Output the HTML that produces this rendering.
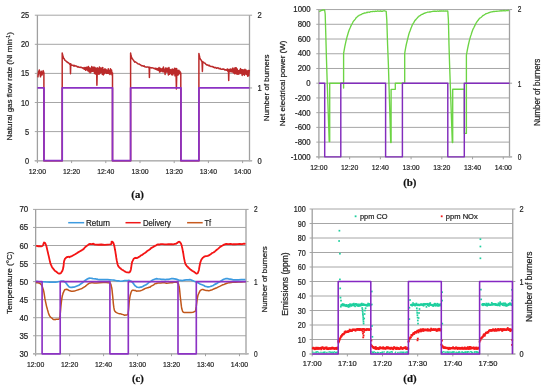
<!DOCTYPE html><html><head><meta charset="utf-8"><style>html,body{margin:0;padding:0;background:#fff;width:550px;height:392px;overflow:hidden}svg{display:block;will-change:transform} text{stroke:#1e1e1e;stroke-width:0.22px}</style></head><body>
<svg width="550" height="392" viewBox="0 0 550 392" shape-rendering="auto">
<rect width="550" height="392" fill="#fff"/>
<line x1="34.8" y1="160.7" x2="249.5" y2="160.7" stroke="#a6a6a6" stroke-width="1"/>
<line x1="34.8" y1="131.6" x2="249.5" y2="131.6" stroke="#a6a6a6" stroke-width="1"/>
<line x1="34.8" y1="102.5" x2="249.5" y2="102.5" stroke="#a6a6a6" stroke-width="1"/>
<line x1="34.8" y1="73.4" x2="249.5" y2="73.4" stroke="#a6a6a6" stroke-width="1"/>
<line x1="34.8" y1="44.3" x2="249.5" y2="44.3" stroke="#a6a6a6" stroke-width="1"/>
<line x1="34.8" y1="15.2" x2="249.5" y2="15.2" stroke="#a6a6a6" stroke-width="1"/>
<line x1="249.5" y1="15.2" x2="252.1" y2="15.2" stroke="#a0a0a0" stroke-width="1"/>
<line x1="249.5" y1="87.95" x2="252.1" y2="87.95" stroke="#a0a0a0" stroke-width="1"/>
<line x1="249.5" y1="160.7" x2="252.1" y2="160.7" stroke="#a0a0a0" stroke-width="1"/>
<line x1="37.4" y1="15.2" x2="37.4" y2="161.3" stroke="#a0a0a0" stroke-width="1.3"/>
<line x1="249.5" y1="15.2" x2="249.5" y2="161.3" stroke="#a0a0a0" stroke-width="1.3"/>
<line x1="34.8" y1="160.7" x2="252.1" y2="160.7" stroke="#b4b4b4" stroke-width="1.4"/>
<line x1="37.4" y1="160.7" x2="37.4" y2="163.1" stroke="#a0a0a0" stroke-width="1"/>
<line x1="71.6" y1="160.7" x2="71.6" y2="163.1" stroke="#a0a0a0" stroke-width="1"/>
<line x1="105.8" y1="160.7" x2="105.8" y2="163.1" stroke="#a0a0a0" stroke-width="1"/>
<line x1="140" y1="160.7" x2="140" y2="163.1" stroke="#a0a0a0" stroke-width="1"/>
<line x1="174.2" y1="160.7" x2="174.2" y2="163.1" stroke="#a0a0a0" stroke-width="1"/>
<line x1="208.4" y1="160.7" x2="208.4" y2="163.1" stroke="#a0a0a0" stroke-width="1"/>
<line x1="242.6" y1="160.7" x2="242.6" y2="163.1" stroke="#a0a0a0" stroke-width="1"/>
<text transform="translate(29.2,163.7) scale(0.86,1)" font-family="Liberation Sans" font-size="8.6" fill="#1e1e1e" text-anchor="end">0</text>
<text transform="translate(29.2,134.6) scale(0.86,1)" font-family="Liberation Sans" font-size="8.6" fill="#1e1e1e" text-anchor="end">5</text>
<text transform="translate(29.2,105.5) scale(0.86,1)" font-family="Liberation Sans" font-size="8.6" fill="#1e1e1e" text-anchor="end">10</text>
<text transform="translate(29.2,76.4) scale(0.86,1)" font-family="Liberation Sans" font-size="8.6" fill="#1e1e1e" text-anchor="end">15</text>
<text transform="translate(29.2,47.3) scale(0.86,1)" font-family="Liberation Sans" font-size="8.6" fill="#1e1e1e" text-anchor="end">20</text>
<text transform="translate(29.2,18.2) scale(0.86,1)" font-family="Liberation Sans" font-size="8.6" fill="#1e1e1e" text-anchor="end">25</text>
<text transform="translate(257.4,163.7) scale(0.88,1)" font-family="Liberation Sans" font-size="8.6" fill="#1e1e1e" text-anchor="start">0</text>
<text transform="translate(257.4,90.95) scale(0.88,1)" font-family="Liberation Sans" font-size="8.6" fill="#1e1e1e" text-anchor="start">1</text>
<text transform="translate(257.4,18.2) scale(0.88,1)" font-family="Liberation Sans" font-size="8.6" fill="#1e1e1e" text-anchor="start">2</text>
<text x="37.4" y="173.9" font-family="Liberation Sans" font-size="8" fill="#1e1e1e" text-anchor="middle" textLength="17.2" lengthAdjust="spacingAndGlyphs">12:00</text>
<text x="71.6" y="173.9" font-family="Liberation Sans" font-size="8" fill="#1e1e1e" text-anchor="middle" textLength="17.2" lengthAdjust="spacingAndGlyphs">12:20</text>
<text x="105.8" y="173.9" font-family="Liberation Sans" font-size="8" fill="#1e1e1e" text-anchor="middle" textLength="17.2" lengthAdjust="spacingAndGlyphs">12:40</text>
<text x="140" y="173.9" font-family="Liberation Sans" font-size="8" fill="#1e1e1e" text-anchor="middle" textLength="17.2" lengthAdjust="spacingAndGlyphs">13:00</text>
<text x="174.2" y="173.9" font-family="Liberation Sans" font-size="8" fill="#1e1e1e" text-anchor="middle" textLength="17.2" lengthAdjust="spacingAndGlyphs">13:20</text>
<text x="208.4" y="173.9" font-family="Liberation Sans" font-size="8" fill="#1e1e1e" text-anchor="middle" textLength="17.2" lengthAdjust="spacingAndGlyphs">13:40</text>
<text x="242.6" y="173.9" font-family="Liberation Sans" font-size="8" fill="#1e1e1e" text-anchor="middle" textLength="17.2" lengthAdjust="spacingAndGlyphs">14:00</text>
<text transform="translate(12.4,86.3) rotate(-90)" font-family="Liberation Sans" font-size="8" fill="#1e1e1e" text-anchor="middle" textLength="108.3" lengthAdjust="spacingAndGlyphs">Natural gas flow rate (Nl min<tspan dy="-2.5" font-size="5">-1</tspan><tspan dy="2.5">)</tspan></text>
<text transform="translate(269.2,87.9) rotate(-90)" x="0" y="0" font-family="Liberation Sans" font-size="8" fill="#1e1e1e" text-anchor="middle" textLength="66.8" lengthAdjust="spacingAndGlyphs" >Number of burners</text>
<text x="137.6" y="197.5" font-family="Liberation Serif" font-size="10.8" fill="#111" text-anchor="middle" font-weight="bold">(a)</text>
<polyline points="37.9,77.3 38.5,72.2 39.3,69.9 40,74 40.5,76.8 41.3,71.3 42,75 42.5,73.2 43.2,70.6 43.9,73 43.9,160.7 62.2,160.7 62.2,160.7 62.2,53 62.6,55.09 63.15,56.77 63.7,58.46 64.25,58.89 64.8,60.07 65.35,60.56 65.9,60.84 66.45,61.73 67,61.75 67.55,62.5 68.1,62.54 68.65,62.89 69.2,63.5 69.75,64.16 70.3,63.8 70.5,73.7 70.8,63.8 70.85,64.14 71.4,64.75 71.95,65.27 72.5,65.16 73.05,65.21 73.6,65.93 74.15,65.29 74.7,66.2 75.25,65.87 75.8,65.91 76.35,66.06 76.9,66.39 77.45,67 78,66.59 78.55,67.09 79.1,67.29 79.65,67.19 80.2,67.48 80.75,67.18 81.3,67.31 81.85,67.57 82.4,68.12 82.95,68.01 83.5,68.73 84.05,67.42 84.6,69.31 85.15,67.74 85.7,70.24 86.25,67.16 86.8,69.84 87.35,67.3 87.9,70.77 88.45,66.6 89,71.69 89.55,67.87 90.1,72.83 90.65,68.34 91.2,71.8 91.75,66.48 92.3,71.29 92.85,67.46 93.4,71.13 93.95,67.1 94.5,73.48 95.05,67.56 95.6,73.99 96.15,68.5 96.7,73.61 96.9,85.2 97.2,73.61 97.25,67.82 97.8,73.43 98.35,68.4 98.9,74.36 99.45,67.09 100,73.42 100.55,68.08 101.1,72.33 101.65,68.12 102.2,74.24 102.75,67.39 103.3,74.91 103.85,69.66 104.4,73.75 104.95,68.65 105.5,72.8 106.05,69.41 106.6,73.37 107.15,70.58 107.7,73.18 108.25,68.77 108.8,73.52 109.35,70.46 109.9,74.44 110.45,68.72 111,73.64 111.55,70.11 112.1,75.17 112.5,73 112.5,160.7 130.6,160.7 130.6,160.7 130.6,53 131,55.59 131.55,57.37 132.1,58.66 132.65,59.07 133.2,59.96 133.75,60.55 134.3,61.58 134.85,62.14 135.4,61.85 135.95,62.27 136.5,62.68 137.05,63.02 137.6,63.56 138.15,63.94 138.7,63.92 139.25,63.95 139.8,64.56 140.35,64.75 140.9,65.15 141.45,65.71 142,65.67 142.55,65.71 143.1,65.99 143.65,66.22 144.2,65.83 144.75,66.76 145.3,66.81 145.85,67.06 146.4,67.14 146.95,66.92 147.5,67.07 148.05,66.95 148.6,67.56 149.15,67.18 149.4,77.5 149.7,67.18 149.7,67.32 150.25,67.57 150.8,67.65 151.35,67.93 151.9,67.79 152.45,67.86 153,68.11 153.55,68.18 154.1,68.53 154.65,68.33 155.2,69.2 155.75,68.22 156.3,69.52 156.85,68.54 157.4,70.1 157.95,68.42 158.5,70.16 159.05,67.6 159.6,72.04 160.15,68.19 160.7,71.54 161.25,68.99 161.8,71.05 162.35,68.4 162.9,71.78 163.45,67.01 164,71.82 164.55,69.37 165.1,74.38 165.65,68.02 166.2,72.13 166.75,68.14 167.3,71.93 167.85,68.34 168.4,74.93 168.95,67.48 169.5,74.24 170.05,69.44 170.6,73.4 171.15,69.87 171.7,74.76 172.25,68.92 172.8,74.93 173.35,69.67 173.9,73.4 174.45,68.36 175,75.82 175.55,68.38 176.1,75.42 176.4,89 176.7,75.42 176.65,68.61 177.2,75.36 177.75,70.52 178.3,74.82 178.85,70.27 179.4,73.49 179.95,71.38 180.5,74.36 180.8,73 180.8,160.7 198.9,160.7 198.9,160.7 198.9,53.5 199.3,55.53 199.85,57.76 200.4,59.24 200.95,59.73 201.5,60.93 202.05,61.62 202.4,71.4 202.7,61.62 202.6,62.14 203.15,62.1 203.7,62.41 204.25,62.81 204.8,63.15 205.35,63.49 205.9,64.18 206.45,64.72 207,64.94 207.55,64.87 208.1,65.27 208.65,65.64 209.2,65.21 209.75,65.94 210.3,66.37 210.85,66.45 211.4,66.61 211.95,66.54 212.5,66.44 213.05,67.16 213.6,66.91 214.15,67.49 214.7,67.8 215.25,67.43 215.8,67.58 216.35,68.21 216.9,68.14 217.45,67.78 218,67.87 218.55,68.02 219.1,68.82 219.65,68.85 220.2,68.38 220.75,69.11 221.3,69.36 221.85,69.18 222.4,69.02 222.95,69.3 223.5,69.03 224.05,69.03 224.6,70 225.15,69.81 225.7,69.8 226.25,70.26 226.8,69.91 227.35,69.01 227.9,71.33 228.45,69.62 228.7,80.6 229,69.62 229,71.1 229.55,69.52 230.1,71.43 230.65,69.01 231.2,71.8 231.75,69.25 232.3,71.87 232.85,68.07 233.4,72.71 233.95,69.05 234.5,73.7 235.05,67.69 235.6,73.61 236.15,67.67 236.7,74 237.25,68.98 237.8,74.22 238.35,70.67 238.9,74.12 239.45,70.32 240,72.96 240.55,68.62 241.1,73.6 241.65,69.74 242.2,75.4 242.75,69.63 243.3,74.34 243.85,69.88 244.4,75.17 244.95,69.22 245.5,73.95 246.05,70.02 246.6,74.51 247.15,71 247.7,76.21 248.25,70.44 248.8,75.71 249.35,69.81" fill="none" stroke="#bb2a2a" stroke-width="1.5" stroke-linejoin="round" stroke-linecap="butt" />
<polyline points="37.4,87.95 44,87.95 44,160.7 62.2,160.7 62.2,87.95 112.5,87.95 112.5,160.7 130.6,160.7 130.6,87.95 181,87.95 181,160.7 198.9,160.7 198.9,87.95 249.5,87.95" fill="none" stroke="#8c32c4" stroke-width="1.75" stroke-linejoin="round" stroke-linecap="butt" />
<line x1="316.3" y1="156.85" x2="509.5" y2="156.85" stroke="#a6a6a6" stroke-width="1"/>
<line x1="316.3" y1="142.12" x2="509.5" y2="142.12" stroke="#a6a6a6" stroke-width="1"/>
<line x1="316.3" y1="127.39" x2="509.5" y2="127.39" stroke="#a6a6a6" stroke-width="1"/>
<line x1="316.3" y1="112.66" x2="509.5" y2="112.66" stroke="#a6a6a6" stroke-width="1"/>
<line x1="316.3" y1="97.93" x2="509.5" y2="97.93" stroke="#a6a6a6" stroke-width="1"/>
<line x1="316.3" y1="83.2" x2="509.5" y2="83.2" stroke="#a6a6a6" stroke-width="1"/>
<line x1="316.3" y1="68.48" x2="509.5" y2="68.48" stroke="#a6a6a6" stroke-width="1"/>
<line x1="316.3" y1="53.75" x2="509.5" y2="53.75" stroke="#a6a6a6" stroke-width="1"/>
<line x1="316.3" y1="39.02" x2="509.5" y2="39.02" stroke="#a6a6a6" stroke-width="1"/>
<line x1="316.3" y1="24.29" x2="509.5" y2="24.29" stroke="#a6a6a6" stroke-width="1"/>
<line x1="316.3" y1="9.56" x2="509.5" y2="9.56" stroke="#a6a6a6" stroke-width="1"/>
<line x1="509.5" y1="9.56" x2="512.1" y2="9.56" stroke="#a0a0a0" stroke-width="1"/>
<line x1="509.5" y1="83.2" x2="512.1" y2="83.2" stroke="#a0a0a0" stroke-width="1"/>
<line x1="509.5" y1="156.85" x2="512.1" y2="156.85" stroke="#a0a0a0" stroke-width="1"/>
<line x1="318.9" y1="9.56" x2="318.9" y2="157.45" stroke="#a0a0a0" stroke-width="1.3"/>
<line x1="509.5" y1="9.56" x2="509.5" y2="157.45" stroke="#a0a0a0" stroke-width="1.3"/>
<line x1="316.3" y1="156.85" x2="512.1" y2="156.85" stroke="#b4b4b4" stroke-width="1.4"/>
<line x1="318.9" y1="156.85" x2="318.9" y2="159.25" stroke="#a0a0a0" stroke-width="1"/>
<line x1="349.63" y1="156.85" x2="349.63" y2="159.25" stroke="#a0a0a0" stroke-width="1"/>
<line x1="380.36" y1="156.85" x2="380.36" y2="159.25" stroke="#a0a0a0" stroke-width="1"/>
<line x1="411.09" y1="156.85" x2="411.09" y2="159.25" stroke="#a0a0a0" stroke-width="1"/>
<line x1="441.82" y1="156.85" x2="441.82" y2="159.25" stroke="#a0a0a0" stroke-width="1"/>
<line x1="472.55" y1="156.85" x2="472.55" y2="159.25" stroke="#a0a0a0" stroke-width="1"/>
<line x1="503.28" y1="156.85" x2="503.28" y2="159.25" stroke="#a0a0a0" stroke-width="1"/>
<text transform="translate(310.7,160.1) scale(0.91,1)" font-family="Liberation Sans" font-size="8.6" fill="#1e1e1e" text-anchor="end">-1000</text>
<text transform="translate(310.7,145.29) scale(0.91,1)" font-family="Liberation Sans" font-size="8.6" fill="#1e1e1e" text-anchor="end">-800</text>
<text transform="translate(310.7,130.47) scale(0.91,1)" font-family="Liberation Sans" font-size="8.6" fill="#1e1e1e" text-anchor="end">-600</text>
<text transform="translate(310.7,115.66) scale(0.91,1)" font-family="Liberation Sans" font-size="8.6" fill="#1e1e1e" text-anchor="end">-400</text>
<text transform="translate(310.7,100.84) scale(0.91,1)" font-family="Liberation Sans" font-size="8.6" fill="#1e1e1e" text-anchor="end">-200</text>
<text transform="translate(310.7,86.03) scale(0.91,1)" font-family="Liberation Sans" font-size="8.6" fill="#1e1e1e" text-anchor="end">0</text>
<text transform="translate(310.7,71.22) scale(0.91,1)" font-family="Liberation Sans" font-size="8.6" fill="#1e1e1e" text-anchor="end">200</text>
<text transform="translate(310.7,56.4) scale(0.91,1)" font-family="Liberation Sans" font-size="8.6" fill="#1e1e1e" text-anchor="end">400</text>
<text transform="translate(310.7,41.59) scale(0.91,1)" font-family="Liberation Sans" font-size="8.6" fill="#1e1e1e" text-anchor="end">600</text>
<text transform="translate(310.7,26.77) scale(0.91,1)" font-family="Liberation Sans" font-size="8.6" fill="#1e1e1e" text-anchor="end">800</text>
<text transform="translate(310.7,11.96) scale(0.91,1)" font-family="Liberation Sans" font-size="8.6" fill="#1e1e1e" text-anchor="end">1000</text>
<text transform="translate(517.8,160.1) scale(0.76,1)" font-family="Liberation Sans" font-size="8.6" fill="#1e1e1e" text-anchor="start">0</text>
<text transform="translate(517.8,86.5) scale(0.76,1)" font-family="Liberation Sans" font-size="8.6" fill="#1e1e1e" text-anchor="start">1</text>
<text transform="translate(517.8,12.06) scale(0.76,1)" font-family="Liberation Sans" font-size="8.6" fill="#1e1e1e" text-anchor="start">2</text>
<text x="318.9" y="169.9" font-family="Liberation Sans" font-size="8" fill="#1e1e1e" text-anchor="middle" textLength="17.2" lengthAdjust="spacingAndGlyphs">12:00</text>
<text x="349.63" y="169.9" font-family="Liberation Sans" font-size="8" fill="#1e1e1e" text-anchor="middle" textLength="17.2" lengthAdjust="spacingAndGlyphs">12:20</text>
<text x="380.36" y="169.9" font-family="Liberation Sans" font-size="8" fill="#1e1e1e" text-anchor="middle" textLength="17.2" lengthAdjust="spacingAndGlyphs">12:40</text>
<text x="411.09" y="169.9" font-family="Liberation Sans" font-size="8" fill="#1e1e1e" text-anchor="middle" textLength="17.2" lengthAdjust="spacingAndGlyphs">13:00</text>
<text x="441.82" y="169.9" font-family="Liberation Sans" font-size="8" fill="#1e1e1e" text-anchor="middle" textLength="17.2" lengthAdjust="spacingAndGlyphs">13:20</text>
<text x="472.55" y="169.9" font-family="Liberation Sans" font-size="8" fill="#1e1e1e" text-anchor="middle" textLength="17.2" lengthAdjust="spacingAndGlyphs">13:40</text>
<text x="503.28" y="169.9" font-family="Liberation Sans" font-size="8" fill="#1e1e1e" text-anchor="middle" textLength="17.2" lengthAdjust="spacingAndGlyphs">14:00</text>
<text transform="translate(284.9,83.4) rotate(-90)" x="0" y="0" font-family="Liberation Sans" font-size="8" fill="#1e1e1e" text-anchor="middle" textLength="85.9" lengthAdjust="spacingAndGlyphs" >Net electrical power (W)</text>
<text transform="translate(540.2,92.3) rotate(-90)" x="0" y="0" font-family="Liberation Sans" font-size="8.3" fill="#1e1e1e" text-anchor="middle" textLength="67.4" lengthAdjust="spacingAndGlyphs" >Number of burners</text>
<text x="409.8" y="185.7" font-family="Liberation Serif" font-size="10.8" fill="#111" text-anchor="middle" font-weight="bold">(b)</text>
<polyline points="319.2,11.6 321,10.6 323,10 324.6,9.9 325.2,14 325.8,35 326.5,60 327.2,82 329.2,141.6 329.7,141.6 329.7,83.2 343.6,83.2 343.6,88 343.6,53.4 344.1,50.68 344.8,46.68 345.5,43.35 346.2,40.22 346.9,37.43 347.6,35 348.3,32.59 349,30.57 349.7,28.67 350.4,27.21 351.1,25.56 351.8,24.26 352.5,23.04 353.2,21.56 353.9,20.69 354.6,19.95 355.3,19.06 356,17.95 356.7,17.25 357.4,16.79 358.1,16.04 358.8,15.62 359.5,15.07 360.2,14.95 360.9,14.63 361.6,14.35 362.3,13.67 363,13.67 363.7,13.39 364.4,12.9 365.1,13.06 365.8,12.92 366.5,12.37 367.2,12.59 367.9,12.17 368.6,12.09 369.3,12.23 370,12.04 370.7,11.62 371.4,11.67 372.1,11.63 372.8,11.48 373.5,11.34 374.2,11.35 374.9,11.5 375.6,11.1 376.3,11.32 377,11.23 377.7,10.98 378.4,11.11 379.1,11.23 379.8,11.15 380.5,10.9 381.2,11.34 381.9,11.22 382.6,11.3 383.3,10.85 384,10.92 384.7,10.79 385.4,11.15 386.2,11.4 386.8,20 387.6,45 388.4,65 390.7,142.6 391.1,142.6 391.1,89.3 395.3,89.3 395.3,83.2 404.7,83.2 404.7,53.4 405.2,50.35 405.9,46.5 406.6,43.23 407.3,40.39 408,37.55 408.7,34.74 409.4,32.39 410.1,30.71 410.8,28.66 411.5,27.03 412.2,25.19 412.9,23.78 413.6,22.84 414.3,21.57 415,20.37 415.7,19.87 416.4,18.88 417.1,18.2 417.8,17.15 418.5,16.91 419.2,15.95 419.9,15.84 420.6,15.17 421.3,14.7 422,14.42 422.7,14.27 423.4,13.63 424.1,13.28 424.8,13.23 425.5,12.85 426.2,12.58 426.9,12.42 427.6,12.19 428.3,12.11 429,12.03 429.7,11.9 430.4,12.01 431.1,11.68 431.8,11.69 432.5,11.44 433.2,11.45 433.9,11.22 434.6,11.27 435.3,11.1 436,11.4 436.7,11.27 437.4,11.04 438.1,11.15 438.8,11.34 439.5,10.9 440.2,11.23 440.9,11.01 441.6,11.02 442.3,11.17 443,10.93 443.7,10.97 444.4,11.04 445.1,11.17 445.8,10.84 446.5,11.07 447.2,11 447.8,11.2 448.4,20 449,45 449.6,65 452.3,142.6 452.7,142.6 452.7,89.2 464.4,89.2 464.4,133.4 466.4,133.4 466.4,55 466.9,52.29 467.6,48.58 468.3,45.26 469,42.11 469.7,39.39 470.4,36.85 471.1,34.89 471.8,32.55 472.5,30.58 473.2,28.79 473.9,27.56 474.6,26.11 475.3,24.67 476,23.25 476.7,22.11 477.4,21.11 478.1,20.25 478.8,19.25 479.5,18.61 480.2,17.8 480.9,17.5 481.6,16.9 482.3,16.14 483,15.49 483.7,15.4 484.4,14.65 485.1,14.29 485.8,13.77 486.5,13.64 487.2,13.39 487.9,13.14 488.6,12.75 489.3,12.68 490,12.22 490.7,12.17 491.4,11.91 492.1,11.91 492.8,11.59 493.5,11.45 494.2,11.47 494.9,11.32 495.6,11.4 496.3,11.28 497,11.31 497.7,11.19 498.4,11.15 499.1,11.17 499.8,10.86 500.5,10.78 501.2,11.06 501.9,10.6 502.6,10.84 503.3,10.77 504,10.43 504.7,10.8 505.4,10.8 506.1,10.64 506.8,10.67 507.5,10.69 508.2,10.33 508.9,10.5" fill="none" stroke="#6cd444" stroke-width="1.35" stroke-linejoin="round" stroke-linecap="butt" />
<polyline points="318.9,83.2 324.7,83.2 324.7,156.85 340.8,156.85 340.8,83.2 385.6,83.2 385.6,156.85 402.4,156.85 402.4,83.2 447.8,83.2 447.8,156.85 464.3,156.85 464.3,83.2 509.5,83.2" fill="none" stroke="#822cbc" stroke-width="1.45" stroke-linejoin="round" stroke-linecap="butt" />
<line x1="33.05" y1="353.8" x2="246" y2="353.8" stroke="#a6a6a6" stroke-width="1"/>
<line x1="33.05" y1="335.75" x2="246" y2="335.75" stroke="#a6a6a6" stroke-width="1"/>
<line x1="33.05" y1="317.7" x2="246" y2="317.7" stroke="#a6a6a6" stroke-width="1"/>
<line x1="33.05" y1="299.65" x2="246" y2="299.65" stroke="#a6a6a6" stroke-width="1"/>
<line x1="33.05" y1="281.6" x2="246" y2="281.6" stroke="#a6a6a6" stroke-width="1"/>
<line x1="33.05" y1="263.55" x2="246" y2="263.55" stroke="#a6a6a6" stroke-width="1"/>
<line x1="33.05" y1="245.5" x2="246" y2="245.5" stroke="#a6a6a6" stroke-width="1"/>
<line x1="33.05" y1="227.45" x2="246" y2="227.45" stroke="#a6a6a6" stroke-width="1"/>
<line x1="33.05" y1="209.4" x2="246" y2="209.4" stroke="#a6a6a6" stroke-width="1"/>
<line x1="246" y1="209.4" x2="248.6" y2="209.4" stroke="#a0a0a0" stroke-width="1"/>
<line x1="246" y1="281.6" x2="248.6" y2="281.6" stroke="#a0a0a0" stroke-width="1"/>
<line x1="246" y1="353.8" x2="248.6" y2="353.8" stroke="#a0a0a0" stroke-width="1"/>
<line x1="35.65" y1="209.4" x2="35.65" y2="354.4" stroke="#a0a0a0" stroke-width="1.3"/>
<line x1="246" y1="209.4" x2="246" y2="354.4" stroke="#a0a0a0" stroke-width="1.3"/>
<line x1="33.05" y1="353.8" x2="248.6" y2="353.8" stroke="#b4b4b4" stroke-width="1.4"/>
<line x1="35.65" y1="353.8" x2="35.65" y2="356.2" stroke="#a0a0a0" stroke-width="1"/>
<line x1="69.62" y1="353.8" x2="69.62" y2="356.2" stroke="#a0a0a0" stroke-width="1"/>
<line x1="103.59" y1="353.8" x2="103.59" y2="356.2" stroke="#a0a0a0" stroke-width="1"/>
<line x1="137.56" y1="353.8" x2="137.56" y2="356.2" stroke="#a0a0a0" stroke-width="1"/>
<line x1="171.53" y1="353.8" x2="171.53" y2="356.2" stroke="#a0a0a0" stroke-width="1"/>
<line x1="205.5" y1="353.8" x2="205.5" y2="356.2" stroke="#a0a0a0" stroke-width="1"/>
<line x1="239.47" y1="353.8" x2="239.47" y2="356.2" stroke="#a0a0a0" stroke-width="1"/>
<text transform="translate(28.2,356.8) scale(0.92,1)" font-family="Liberation Sans" font-size="8.6" fill="#1e1e1e" text-anchor="end">30</text>
<text transform="translate(28.2,338.75) scale(0.92,1)" font-family="Liberation Sans" font-size="8.6" fill="#1e1e1e" text-anchor="end">35</text>
<text transform="translate(28.2,320.7) scale(0.92,1)" font-family="Liberation Sans" font-size="8.6" fill="#1e1e1e" text-anchor="end">40</text>
<text transform="translate(28.2,302.65) scale(0.92,1)" font-family="Liberation Sans" font-size="8.6" fill="#1e1e1e" text-anchor="end">45</text>
<text transform="translate(28.2,284.6) scale(0.92,1)" font-family="Liberation Sans" font-size="8.6" fill="#1e1e1e" text-anchor="end">50</text>
<text transform="translate(28.2,266.55) scale(0.92,1)" font-family="Liberation Sans" font-size="8.6" fill="#1e1e1e" text-anchor="end">55</text>
<text transform="translate(28.2,248.5) scale(0.92,1)" font-family="Liberation Sans" font-size="8.6" fill="#1e1e1e" text-anchor="end">60</text>
<text transform="translate(28.2,230.45) scale(0.92,1)" font-family="Liberation Sans" font-size="8.6" fill="#1e1e1e" text-anchor="end">65</text>
<text transform="translate(28.2,212.4) scale(0.92,1)" font-family="Liberation Sans" font-size="8.6" fill="#1e1e1e" text-anchor="end">70</text>
<text transform="translate(253.9,356.8) scale(0.76,1)" font-family="Liberation Sans" font-size="8.6" fill="#1e1e1e" text-anchor="start">0</text>
<text transform="translate(253.9,284.6) scale(0.76,1)" font-family="Liberation Sans" font-size="8.6" fill="#1e1e1e" text-anchor="start">1</text>
<text transform="translate(253.9,212.4) scale(0.76,1)" font-family="Liberation Sans" font-size="8.6" fill="#1e1e1e" text-anchor="start">2</text>
<text x="35.65" y="366.6" font-family="Liberation Sans" font-size="8" fill="#1e1e1e" text-anchor="middle" textLength="17.2" lengthAdjust="spacingAndGlyphs">12:00</text>
<text x="69.62" y="366.6" font-family="Liberation Sans" font-size="8" fill="#1e1e1e" text-anchor="middle" textLength="17.2" lengthAdjust="spacingAndGlyphs">12:20</text>
<text x="103.59" y="366.6" font-family="Liberation Sans" font-size="8" fill="#1e1e1e" text-anchor="middle" textLength="17.2" lengthAdjust="spacingAndGlyphs">12:40</text>
<text x="137.56" y="366.6" font-family="Liberation Sans" font-size="8" fill="#1e1e1e" text-anchor="middle" textLength="17.2" lengthAdjust="spacingAndGlyphs">13:00</text>
<text x="171.53" y="366.6" font-family="Liberation Sans" font-size="8" fill="#1e1e1e" text-anchor="middle" textLength="17.2" lengthAdjust="spacingAndGlyphs">13:20</text>
<text x="205.5" y="366.6" font-family="Liberation Sans" font-size="8" fill="#1e1e1e" text-anchor="middle" textLength="17.2" lengthAdjust="spacingAndGlyphs">13:40</text>
<text x="239.47" y="366.6" font-family="Liberation Sans" font-size="8" fill="#1e1e1e" text-anchor="middle" textLength="17.2" lengthAdjust="spacingAndGlyphs">14:00</text>
<text transform="translate(12.1,282.7) rotate(-90)" x="0" y="0" font-family="Liberation Sans" font-size="8" fill="#1e1e1e" text-anchor="middle" textLength="62.4" lengthAdjust="spacingAndGlyphs" >Temperature (°C)</text>
<text transform="translate(267,279.4) rotate(-90)" x="0" y="0" font-family="Liberation Sans" font-size="8" fill="#1e1e1e" text-anchor="middle" textLength="66.3" lengthAdjust="spacingAndGlyphs" >Number of burners</text>
<text x="137.9" y="382.3" font-family="Liberation Serif" font-size="10.6" fill="#111" text-anchor="middle" font-weight="bold">(c)</text>
<line x1="68.2" y1="222.7" x2="84.2" y2="222.7" stroke="#3d9be0" stroke-width="1.5"/>
<text x="86" y="225.6" font-family="Liberation Sans" font-size="8.8" fill="#1e1e1e" text-anchor="start" textLength="24" lengthAdjust="spacingAndGlyphs">Return</text>
<line x1="125.5" y1="222.7" x2="140.7" y2="222.7" stroke="#f01818" stroke-width="1.5"/>
<text x="142.9" y="225.6" font-family="Liberation Sans" font-size="8.8" fill="#1e1e1e" text-anchor="start" textLength="28" lengthAdjust="spacingAndGlyphs">Delivery</text>
<line x1="187.1" y1="222.7" x2="202.7" y2="222.7" stroke="#c85a1e" stroke-width="1.5"/>
<text x="204.5" y="225.6" font-family="Liberation Sans" font-size="8.8" fill="#1e1e1e" text-anchor="start" textLength="6.6" lengthAdjust="spacingAndGlyphs">Tf</text>
<polyline points="36,281.3 38.44,281.53 41.96,281.73 45.96,281.95 49.84,282.05 53,282.22 55.41,282.07 57.46,281.88 59.21,281.51 60.71,281.25 62,281.19 62.99,281.24 63.63,281.17 64.09,281.47 64.53,281.6 65.1,282.04 65.81,282.77 66.56,283.8 67.34,284.85 68.12,285.72 68.9,286.69 69.64,287.11 70.35,287.3 71.08,287.42 71.88,287.45 72.8,287.17 73.88,287.17 75.08,286.71 76.35,286.23 77.64,285.75 78.9,285.27 80.16,284.31 81.45,283.5 82.73,282.53 83.93,281.4 85,280.56 85.88,279.96 86.61,279.48 87.28,279.06 87.97,278.67 88.8,278.44 89.78,278.18 90.86,278.25 91.99,278.41 93.12,278.73 94.2,278.74 95.13,278.96 95.96,278.97 96.81,279.17 97.84,279.4 99.2,279.65 100.98,279.72 103.07,279.72 105.35,279.61 107.67,279.7 109.9,279.79 112.11,280.01 114.4,280.22 116.64,280.78 118.75,280.85 120.6,281.24 122.16,281.21 123.49,280.78 124.66,280.72 125.74,280.66 126.8,280.64 127.81,280.48 128.71,280.44 129.57,280.51 130.41,280.97 131.3,281.21 132.23,282.15 133.18,283.17 134.12,284.54 135.07,285.81 136,286.39 136.9,287.07 137.77,287.26 138.64,287.48 139.54,287.39 140.5,287.12 141.56,287.05 142.7,286.49 143.86,285.81 144.98,285.22 146,284.8 146.86,284.22 147.61,283.58 148.32,282.92 149.09,282.36 150,281.74 151.04,281.24 152.14,280.27 153.34,279.8 154.65,279.26 156.1,278.69 157.77,278.87 159.63,278.99 161.58,279.34 163.51,279.42 165.3,279.56 166.94,279.46 168.49,279.39 170,278.98 171.49,278.7 173,278.68 174.5,278.84 175.97,279.17 177.45,279.64 178.98,280.27 180.6,280.34 182.41,280.53 184.39,280.15 186.37,279.94 188.23,279.83 189.8,279.71 191.05,279.92 192.09,280.38 192.96,280.7 193.71,281.02 194.4,281.24 194.91,281.49 195.22,281.59 195.48,281.56 195.86,281.77 196.5,281.86 197.48,282.56 198.69,283.12 200.03,283.92 201.4,284.57 202.7,285.04 203.9,285.49 205.08,286.29 206.26,286.5 207.49,286.88 208.8,286.85 210.2,286.53 211.66,286.09 213.17,285.42 214.75,284.37 216.4,283.65 218.16,282.59 220.04,281.53 221.95,280.35 223.83,279.32 225.6,278.7 227.16,278.54 228.57,278.91 229.97,279.12 231.5,279.4 233.3,279.82 235.65,279.92 238.44,279.79 241.28,279.7 243.77,279.71 245.5,279.68" fill="none" stroke="#3d9be0" stroke-width="1.7" stroke-linejoin="round" stroke-linecap="butt" />
<polyline points="36,282.84 36.65,282.77 37.6,282.84 38.67,282.92 39.72,283.29 40.6,283.95 41.29,284.74 41.9,285.68 42.44,286.96 42.93,288.44 43.4,289.95 43.82,291.69 44.17,293.56 44.49,295.74 44.82,298.13 45.2,299.85 45.63,302.05 46.08,304.2 46.56,306.36 47.03,308.05 47.5,309.81 47.94,311.31 48.35,312.7 48.77,313.92 49.24,315.2 49.8,316.14 50.46,317.06 51.21,317.54 52.01,318.25 52.82,319.08 53.6,319.56 54.38,319.59 55.19,319.64 55.99,319.28 56.74,319.25 57.4,319.27 57.97,319.18 58.48,319.25 58.92,319.22 59.33,318.51 59.7,317.44 60.02,315.64 60.29,313.32 60.53,310.6 60.76,307.92 61,305.39 61.25,303.24 61.49,301.28 61.73,299.28 62,297.58 62.3,295.82 62.65,294.71 63.04,293.25 63.44,292.43 63.87,291.4 64.3,290.52 64.68,289.91 65.01,289.61 65.38,289.58 65.89,289.55 66.6,289.34 67.54,289.58 68.66,290.25 69.92,290.82 71.31,291.16 72.8,291.19 74.47,291.08 76.34,290.35 78.29,289.8 80.21,289.1 82,288.48 83.67,287.39 85.3,286.33 86.85,284.98 88.3,283.83 89.6,283.1 90.56,283.03 91.2,282.85 91.81,282.77 92.71,282.78 94.2,283 96.6,282.95 99.73,282.66 103.07,282.43 106.12,282.57 108.4,282.87 109.74,282.99 110.49,283.45 110.86,284.28 111.09,285.25 111.4,286.57 111.77,287.97 112.06,290.13 112.28,292.24 112.49,294.32 112.7,296.28 112.91,298.66 113.09,300.54 113.27,302.85 113.47,304.59 113.7,306.29 113.92,307.93 114.12,308.96 114.36,310.27 114.73,311 115.3,311.67 116.11,312.35 117.11,312.93 118.24,313.42 119.42,313.86 120.6,313.86 121.86,314.32 123.24,314.62 124.62,315.22 125.85,315.04 126.8,314.92 127.41,314.69 127.75,314.49 127.95,314.14 128.09,313.26 128.3,311.89 128.55,310.04 128.77,307.48 128.99,304.45 129.23,301.68 129.5,299.67 129.81,297.66 130.15,295.6 130.52,294.28 130.9,292.82 131.3,291.75 131.68,291 132.04,290.51 132.43,290.24 132.93,290.27 133.6,290.24 134.44,290.56 135.43,290.49 136.53,291.14 137.72,291.04 139,291.04 140.46,290.82 142.13,290.17 143.83,289.25 145.4,288.37 146.7,287.99 147.62,287.64 148.27,287.7 148.8,287.31 149.33,287.23 150,287.16 150.84,286.34 151.75,285.9 152.7,285.42 153.66,284.8 154.6,284.02 155.45,283.64 156.22,283.33 157.03,283.42 157.99,282.95 159.2,283 160.76,283 162.59,282.8 164.56,282.84 166.54,283.18 168.4,283.05 170.23,282.77 172.11,282.71 173.92,282.33 175.52,282.23 176.8,282.3 177.66,282.97 178.2,283.51 178.53,284.09 178.79,285.23 179.1,286.31 179.45,288.45 179.75,291.15 180.03,294.22 180.31,297.08 180.6,299.45 180.89,301.82 181.17,304.32 181.45,306.63 181.79,308.81 182.2,310.07 182.61,311.37 183,311.96 183.49,312.33 184.18,312.48 185.2,312.54 186.76,312.53 188.8,312.51 190.97,312.39 192.95,312.3 194.4,311.63 195.21,311.21 195.6,310.87 195.75,309.96 195.82,308.99 196,307.81 196.28,306.45 196.53,304.42 196.78,302.6 197.03,300.55 197.3,298.9 197.56,297.25 197.81,296.02 198.08,295 198.39,294.21 198.8,293.38 199.26,292.34 199.74,291.32 200.31,290.55 201.01,289.96 201.9,289.57 203,289.59 204.28,289.98 205.69,290.38 207.21,290.53 208.8,290.84 210.52,290.22 212.39,289.67 214.32,288.77 216.23,288.07 218,287.08 219.62,286.37 221.15,285.6 222.63,284.82 224.1,284.43 225.6,283.73 227.06,283.18 228.46,282.86 229.89,282.82 231.47,282.4 233.3,282.09 235.65,282.17 238.44,282 241.28,282.07 243.77,281.68 245.5,281.79" fill="none" stroke="#c0561a" stroke-width="1.5" stroke-linejoin="round" stroke-linecap="butt" />
<polyline points="36,245.76 36.9,245.94 38.2,246.25 39.67,246.07 41.05,246.33 42.1,246.11 42.75,245.59 43.16,245.08 43.43,243.89 43.68,243.24 44,242.54 44.39,242.76 44.78,242.76 45.17,243.12 45.58,244.11 46,245.22 46.44,246.24 46.9,248.31 47.37,250.38 47.84,252.28 48.3,254.33 48.74,256.15 49.18,258.17 49.62,260.14 50.06,262.11 50.5,263.68 50.94,264.69 51.37,265.58 51.82,266.58 52.29,267.52 52.8,268.04 53.36,268.88 53.95,269.56 54.57,270.54 55.22,271.05 55.9,271.38 56.64,271.97 57.44,272.69 58.25,273.26 59.02,273.65 59.7,273.5 60.27,273.38 60.78,273.27 61.22,272.59 61.63,271.92 62,271.3 62.33,271.02 62.61,270.05 62.85,269.46 63.08,268.52 63.3,267.56 63.5,266.51 63.66,265.06 63.82,263.16 64.02,261.58 64.3,260.61 64.68,259.4 65.13,258.52 65.62,258.32 66.12,257.57 66.6,257.36 67.06,256.9 67.52,257.07 67.98,256.87 68.44,256.76 68.9,256.66 69.22,256.93 69.41,257.06 69.67,257.23 70.2,256.67 71.2,256.46 72.89,255.43 75.14,254.25 77.62,252.65 80.01,251.28 82,250.11 83.53,249.12 84.81,247.51 85.92,246.56 86.96,245.72 88,245.03 89.05,244.15 90.04,243.82 90.98,244.09 91.87,244.06 92.7,243.79 93.28,243.62 93.61,244.2 93.98,244.13 94.68,244.58 96,244.56 98.3,244.75 101.38,244.51 104.7,244.88 107.72,244.55 109.9,244.45 111.03,244.21 111.48,243.51 111.55,242.44 111.52,241.85 111.7,241.65 112.09,241.73 112.5,241.86 112.92,242.14 113.32,242.82 113.7,243.91 114.05,245.14 114.37,246.14 114.69,248.01 114.99,249.82 115.3,251.17 115.61,253.37 115.91,254.96 116.2,257.17 116.5,259 116.8,260.66 117.06,261.85 117.28,263.07 117.53,264.18 117.85,265.05 118.3,266.08 118.89,266.85 119.58,267.65 120.37,268.19 121.24,269.19 122.2,269.79 123.34,270.37 124.66,271.35 126.03,272.01 127.29,272.34 128.3,272.44 129.02,272.6 129.53,272.26 129.92,271.91 130.25,271.45 130.6,270.4 130.94,269.23 131.22,267.49 131.48,265.31 131.76,263.76 132.1,261.99 132.5,261.2 132.92,260.3 133.38,259.42 133.88,258.58 134.4,258.3 134.92,257.95 135.44,258.17 136.01,257.77 136.68,258.07 137.5,257.85 138.52,257.15 139.71,256.46 140.99,255.31 142.31,254.82 143.6,253.7 144.89,253.03 146.22,252.04 147.56,250.69 148.83,250.07 150,249.32 151.04,248.16 151.97,247.65 152.85,247.26 153.71,246.43 154.6,246.3 155.45,245.52 156.22,245.36 157.03,244.64 157.99,244.51 159.2,244.51 160.77,244.08 162.63,244.17 164.61,244.41 166.59,244.41 168.4,244.27 170.09,244.25 171.77,244.1 173.36,244.3 174.79,243.95 176,243.8 176.92,243.04 177.6,242.83 178.13,241.98 178.6,241.81 179.1,241.77 179.62,241.82 180.12,242.47 180.58,242.89 181,243.64 181.4,244.69 181.74,245.34 182.02,246.98 182.28,248.16 182.56,249.59 182.9,251.55 183.3,253.45 183.72,256.37 184.18,258.82 184.68,261.17 185.2,263.33 185.76,264.53 186.35,265.36 186.97,266.35 187.62,266.61 188.3,267.66 189,268.08 189.74,268.9 190.5,269.67 191.28,270.05 192.1,270.68 193,271.2 193.97,271.83 194.95,272.57 195.85,273.18 196.6,273.66 197.17,273.47 197.61,273.18 197.96,272.82 198.28,271.71 198.6,270.86 198.92,269.92 199.2,268.16 199.46,266.58 199.72,265.24 200,263.8 200.27,262.84 200.54,261.8 200.81,261.09 201.12,260.29 201.5,259.35 201.93,258.89 202.4,258.22 202.93,257.52 203.52,257.45 204.2,256.67 204.97,256.29 205.83,256.03 206.76,256.08 207.75,255.92 208.8,255.44 209.87,254.67 210.98,253.94 212.16,253.05 213.46,252.48 214.9,251.43 216.51,250.03 218.28,248.61 220.15,246.89 222.1,245.72 224.1,244.62 226.18,243.91 228.36,244.15 230.59,243.84 232.82,244.26 235,244.25 237.29,244.1 239.73,243.91 242.08,244.18 244.08,243.71 245.5,243.93" fill="none" stroke="#f41414" stroke-width="1.8" stroke-linejoin="round" stroke-linecap="butt" />
<polyline points="35.65,281.6 42.1,281.6 42.1,353.8 60.2,353.8 60.2,281.6 109.9,281.6 109.9,353.8 128.3,353.8 128.3,281.6 178,281.6 178,353.8 196.3,353.8 196.3,281.6 246,281.6" fill="none" stroke="#8c32c4" stroke-width="1.65" stroke-linejoin="round" stroke-linecap="butt" />
<line x1="309.6" y1="354" x2="512.75" y2="354" stroke="#a6a6a6" stroke-width="1"/>
<line x1="309.6" y1="339.5" x2="512.75" y2="339.5" stroke="#a6a6a6" stroke-width="1"/>
<line x1="309.6" y1="325" x2="512.75" y2="325" stroke="#a6a6a6" stroke-width="1"/>
<line x1="309.6" y1="310.5" x2="512.75" y2="310.5" stroke="#a6a6a6" stroke-width="1"/>
<line x1="309.6" y1="296" x2="512.75" y2="296" stroke="#a6a6a6" stroke-width="1"/>
<line x1="309.6" y1="281.5" x2="512.75" y2="281.5" stroke="#a6a6a6" stroke-width="1"/>
<line x1="309.6" y1="267" x2="512.75" y2="267" stroke="#a6a6a6" stroke-width="1"/>
<line x1="309.6" y1="252.5" x2="512.75" y2="252.5" stroke="#a6a6a6" stroke-width="1"/>
<line x1="309.6" y1="238" x2="512.75" y2="238" stroke="#a6a6a6" stroke-width="1"/>
<line x1="309.6" y1="223.5" x2="512.75" y2="223.5" stroke="#a6a6a6" stroke-width="1"/>
<line x1="309.6" y1="209" x2="512.75" y2="209" stroke="#a6a6a6" stroke-width="1"/>
<line x1="512.75" y1="209" x2="515.35" y2="209" stroke="#a0a0a0" stroke-width="1"/>
<line x1="512.75" y1="281.5" x2="515.35" y2="281.5" stroke="#a0a0a0" stroke-width="1"/>
<line x1="512.75" y1="354" x2="515.35" y2="354" stroke="#a0a0a0" stroke-width="1"/>
<line x1="312.2" y1="209" x2="312.2" y2="354.6" stroke="#a0a0a0" stroke-width="1.3"/>
<line x1="512.75" y1="209" x2="512.75" y2="354.6" stroke="#a0a0a0" stroke-width="1.3"/>
<line x1="309.6" y1="354" x2="515.35" y2="354" stroke="#b4b4b4" stroke-width="1.4"/>
<line x1="312.2" y1="354" x2="312.2" y2="356.4" stroke="#a0a0a0" stroke-width="1"/>
<line x1="347.36" y1="354" x2="347.36" y2="356.4" stroke="#a0a0a0" stroke-width="1"/>
<line x1="382.52" y1="354" x2="382.52" y2="356.4" stroke="#a0a0a0" stroke-width="1"/>
<line x1="417.68" y1="354" x2="417.68" y2="356.4" stroke="#a0a0a0" stroke-width="1"/>
<line x1="452.84" y1="354" x2="452.84" y2="356.4" stroke="#a0a0a0" stroke-width="1"/>
<line x1="488" y1="354" x2="488" y2="356.4" stroke="#a0a0a0" stroke-width="1"/>
<text transform="translate(305.8,357) scale(0.84,1)" font-family="Liberation Sans" font-size="8.6" fill="#1e1e1e" text-anchor="end">0</text>
<text transform="translate(305.8,342.5) scale(0.84,1)" font-family="Liberation Sans" font-size="8.6" fill="#1e1e1e" text-anchor="end">10</text>
<text transform="translate(305.8,328) scale(0.84,1)" font-family="Liberation Sans" font-size="8.6" fill="#1e1e1e" text-anchor="end">20</text>
<text transform="translate(305.8,313.5) scale(0.84,1)" font-family="Liberation Sans" font-size="8.6" fill="#1e1e1e" text-anchor="end">30</text>
<text transform="translate(305.8,299) scale(0.84,1)" font-family="Liberation Sans" font-size="8.6" fill="#1e1e1e" text-anchor="end">40</text>
<text transform="translate(305.8,284.5) scale(0.84,1)" font-family="Liberation Sans" font-size="8.6" fill="#1e1e1e" text-anchor="end">50</text>
<text transform="translate(305.8,270) scale(0.84,1)" font-family="Liberation Sans" font-size="8.6" fill="#1e1e1e" text-anchor="end">60</text>
<text transform="translate(305.8,255.5) scale(0.84,1)" font-family="Liberation Sans" font-size="8.6" fill="#1e1e1e" text-anchor="end">70</text>
<text transform="translate(305.8,241) scale(0.84,1)" font-family="Liberation Sans" font-size="8.6" fill="#1e1e1e" text-anchor="end">80</text>
<text transform="translate(305.8,226.5) scale(0.84,1)" font-family="Liberation Sans" font-size="8.6" fill="#1e1e1e" text-anchor="end">90</text>
<text transform="translate(305.8,212) scale(0.84,1)" font-family="Liberation Sans" font-size="8.6" fill="#1e1e1e" text-anchor="end">100</text>
<text transform="translate(519.6,357) scale(0.86,1)" font-family="Liberation Sans" font-size="8.6" fill="#1e1e1e" text-anchor="start">0</text>
<text transform="translate(519.6,284.5) scale(0.86,1)" font-family="Liberation Sans" font-size="8.6" fill="#1e1e1e" text-anchor="start">1</text>
<text transform="translate(519.6,212) scale(0.86,1)" font-family="Liberation Sans" font-size="8.6" fill="#1e1e1e" text-anchor="start">2</text>
<text x="312.2" y="366.4" font-family="Liberation Sans" font-size="8" fill="#1e1e1e" text-anchor="middle" textLength="18.8" lengthAdjust="spacingAndGlyphs">17:00</text>
<text x="347.36" y="366.4" font-family="Liberation Sans" font-size="8" fill="#1e1e1e" text-anchor="middle" textLength="18.8" lengthAdjust="spacingAndGlyphs">17:10</text>
<text x="382.52" y="366.4" font-family="Liberation Sans" font-size="8" fill="#1e1e1e" text-anchor="middle" textLength="18.8" lengthAdjust="spacingAndGlyphs">17:20</text>
<text x="417.68" y="366.4" font-family="Liberation Sans" font-size="8" fill="#1e1e1e" text-anchor="middle" textLength="18.8" lengthAdjust="spacingAndGlyphs">17:30</text>
<text x="452.84" y="366.4" font-family="Liberation Sans" font-size="8" fill="#1e1e1e" text-anchor="middle" textLength="18.8" lengthAdjust="spacingAndGlyphs">17:40</text>
<text x="488" y="366.4" font-family="Liberation Sans" font-size="8" fill="#1e1e1e" text-anchor="middle" textLength="18.8" lengthAdjust="spacingAndGlyphs">17:50</text>
<text transform="translate(287.7,284) rotate(-90)" x="0" y="0" font-family="Liberation Sans" font-size="8.4" fill="#1e1e1e" text-anchor="middle" textLength="63.3" lengthAdjust="spacingAndGlyphs" >Emissions (ppm)</text>
<text transform="translate(531.5,286.8) rotate(-90)" x="0" y="0" font-family="Liberation Sans" font-size="8.4" fill="#1e1e1e" text-anchor="middle" textLength="70.6" lengthAdjust="spacingAndGlyphs" >Number of burners</text>
<text x="409.9" y="382.3" font-family="Liberation Serif" font-size="10.8" fill="#111" text-anchor="middle" font-weight="bold">(d)</text>
<rect x="354.7" y="215.4" width="1.8" height="1.8" fill="#1ecf9e"/>
<text x="360" y="218.9" font-family="Liberation Sans" font-size="7.9" fill="#1e1e1e" text-anchor="start" textLength="27.6" lengthAdjust="spacingAndGlyphs">ppm CO</text>
<rect x="440.8" y="215.4" width="1.8" height="1.8" fill="#f41a1a"/>
<text x="445.8" y="218.9" font-family="Liberation Sans" font-size="7.9" fill="#1e1e1e" text-anchor="start" textLength="32" lengthAdjust="spacingAndGlyphs">ppm NOx</text>
<g fill="#f41a1a"><rect x="311.9" y="347.56" width="1.8" height="1.8"/><rect x="312.32" y="346.84" width="1.8" height="1.8"/><rect x="312.74" y="346.93" width="1.8" height="1.8"/><rect x="313.16" y="347.5" width="1.8" height="1.8"/><rect x="313.58" y="348.3" width="1.8" height="1.8"/><rect x="314" y="347.61" width="1.8" height="1.8"/><rect x="314.42" y="348.26" width="1.8" height="1.8"/><rect x="314.84" y="347.34" width="1.8" height="1.8"/><rect x="315.26" y="346.75" width="1.8" height="1.8"/><rect x="315.68" y="347.52" width="1.8" height="1.8"/><rect x="316.1" y="348.01" width="1.8" height="1.8"/><rect x="316.52" y="347.74" width="1.8" height="1.8"/><rect x="316.94" y="346.8" width="1.8" height="1.8"/><rect x="317.36" y="347.12" width="1.8" height="1.8"/><rect x="317.78" y="348.01" width="1.8" height="1.8"/><rect x="318.2" y="347.51" width="1.8" height="1.8"/><rect x="318.62" y="347.28" width="1.8" height="1.8"/><rect x="319.04" y="347.67" width="1.8" height="1.8"/><rect x="319.46" y="347.29" width="1.8" height="1.8"/><rect x="319.88" y="346.86" width="1.8" height="1.8"/><rect x="320.3" y="348.39" width="1.8" height="1.8"/><rect x="320.72" y="347.04" width="1.8" height="1.8"/><rect x="321.14" y="346.61" width="1.8" height="1.8"/><rect x="321.56" y="346.65" width="1.8" height="1.8"/><rect x="321.98" y="346.56" width="1.8" height="1.8"/><rect x="322.4" y="347.61" width="1.8" height="1.8"/><rect x="322.82" y="347.98" width="1.8" height="1.8"/><rect x="323.24" y="347.15" width="1.8" height="1.8"/><rect x="323.66" y="348.01" width="1.8" height="1.8"/><rect x="324.08" y="347.39" width="1.8" height="1.8"/><rect x="324.5" y="346.64" width="1.8" height="1.8"/><rect x="324.92" y="347.28" width="1.8" height="1.8"/><rect x="325.34" y="347.12" width="1.8" height="1.8"/><rect x="325.76" y="346.46" width="1.8" height="1.8"/><rect x="326.18" y="348.22" width="1.8" height="1.8"/><rect x="326.6" y="347.7" width="1.8" height="1.8"/><rect x="327.02" y="347.57" width="1.8" height="1.8"/><rect x="327.44" y="348.25" width="1.8" height="1.8"/><rect x="327.86" y="347.51" width="1.8" height="1.8"/><rect x="328.28" y="347.62" width="1.8" height="1.8"/><rect x="328.7" y="347.48" width="1.8" height="1.8"/><rect x="329.12" y="347.43" width="1.8" height="1.8"/><rect x="329.54" y="347.78" width="1.8" height="1.8"/><rect x="329.96" y="347.71" width="1.8" height="1.8"/><rect x="330.38" y="347" width="1.8" height="1.8"/><rect x="330.8" y="347.62" width="1.8" height="1.8"/><rect x="331.22" y="346.74" width="1.8" height="1.8"/><rect x="331.64" y="347.58" width="1.8" height="1.8"/><rect x="332.06" y="346.85" width="1.8" height="1.8"/><rect x="332.48" y="347.51" width="1.8" height="1.8"/><rect x="332.9" y="347.43" width="1.8" height="1.8"/><rect x="333.32" y="347.55" width="1.8" height="1.8"/><rect x="333.74" y="348.11" width="1.8" height="1.8"/><rect x="334.16" y="347.33" width="1.8" height="1.8"/><rect x="334.58" y="347.53" width="1.8" height="1.8"/><rect x="335" y="347.49" width="1.8" height="1.8"/><rect x="335.42" y="346.96" width="1.8" height="1.8"/><rect x="335.84" y="348.06" width="1.8" height="1.8"/><rect x="336.26" y="347.75" width="1.8" height="1.8"/><rect x="336.68" y="346.55" width="1.8" height="1.8"/><rect x="337.1" y="346.97" width="1.8" height="1.8"/><rect x="337.4" y="340.11" width="1.8" height="1.8"/><rect x="337.82" y="340.88" width="1.8" height="1.8"/><rect x="338.24" y="340.26" width="1.8" height="1.8"/><rect x="338.66" y="338.99" width="1.8" height="1.8"/><rect x="339.08" y="337.96" width="1.8" height="1.8"/><rect x="339.5" y="336.91" width="1.8" height="1.8"/><rect x="339.92" y="336.08" width="1.8" height="1.8"/><rect x="340.34" y="335" width="1.8" height="1.8"/><rect x="340.76" y="335.36" width="1.8" height="1.8"/><rect x="341.18" y="333.81" width="1.8" height="1.8"/><rect x="341.6" y="334.08" width="1.8" height="1.8"/><rect x="342.02" y="333.29" width="1.8" height="1.8"/><rect x="342.44" y="333.06" width="1.8" height="1.8"/><rect x="342.86" y="333.35" width="1.8" height="1.8"/><rect x="343.28" y="332.51" width="1.8" height="1.8"/><rect x="343.7" y="331.26" width="1.8" height="1.8"/><rect x="344.12" y="331.66" width="1.8" height="1.8"/><rect x="344.54" y="330.46" width="1.8" height="1.8"/><rect x="344.96" y="331.46" width="1.8" height="1.8"/><rect x="345.38" y="330.92" width="1.8" height="1.8"/><rect x="345.8" y="331.2" width="1.8" height="1.8"/><rect x="346.22" y="331.08" width="1.8" height="1.8"/><rect x="346.64" y="330.32" width="1.8" height="1.8"/><rect x="347.06" y="330.78" width="1.8" height="1.8"/><rect x="347.48" y="330.96" width="1.8" height="1.8"/><rect x="347.9" y="330.18" width="1.8" height="1.8"/><rect x="348.32" y="330.37" width="1.8" height="1.8"/><rect x="348.74" y="328.7" width="1.8" height="1.8"/><rect x="349.16" y="330.15" width="1.8" height="1.8"/><rect x="349.58" y="329.42" width="1.8" height="1.8"/><rect x="350" y="329.51" width="1.8" height="1.8"/><rect x="350.42" y="329.78" width="1.8" height="1.8"/><rect x="350.84" y="330.14" width="1.8" height="1.8"/><rect x="351.26" y="329.71" width="1.8" height="1.8"/><rect x="351.68" y="328.56" width="1.8" height="1.8"/><rect x="352.1" y="329.03" width="1.8" height="1.8"/><rect x="352.52" y="328.82" width="1.8" height="1.8"/><rect x="352.94" y="329.18" width="1.8" height="1.8"/><rect x="353.36" y="328.5" width="1.8" height="1.8"/><rect x="353.78" y="329.16" width="1.8" height="1.8"/><rect x="354.2" y="329.26" width="1.8" height="1.8"/><rect x="354.62" y="329.85" width="1.8" height="1.8"/><rect x="355.04" y="328.7" width="1.8" height="1.8"/><rect x="355.46" y="328.67" width="1.8" height="1.8"/><rect x="355.88" y="328.51" width="1.8" height="1.8"/><rect x="356.3" y="328.79" width="1.8" height="1.8"/><rect x="356.72" y="328.04" width="1.8" height="1.8"/><rect x="357.14" y="328.75" width="1.8" height="1.8"/><rect x="357.56" y="328.92" width="1.8" height="1.8"/><rect x="357.98" y="328.1" width="1.8" height="1.8"/><rect x="358.4" y="328.13" width="1.8" height="1.8"/><rect x="358.82" y="329.22" width="1.8" height="1.8"/><rect x="359.24" y="328.27" width="1.8" height="1.8"/><rect x="359.66" y="328.31" width="1.8" height="1.8"/><rect x="360.08" y="329" width="1.8" height="1.8"/><rect x="360.5" y="328.48" width="1.8" height="1.8"/><rect x="360.92" y="329.1" width="1.8" height="1.8"/><rect x="361.34" y="328.53" width="1.8" height="1.8"/><rect x="361.76" y="328.13" width="1.8" height="1.8"/><rect x="362.18" y="328.64" width="1.8" height="1.8"/><rect x="362.6" y="328.06" width="1.8" height="1.8"/><rect x="363.02" y="328.16" width="1.8" height="1.8"/><rect x="363.44" y="329.16" width="1.8" height="1.8"/><rect x="363.86" y="328.52" width="1.8" height="1.8"/><rect x="364.28" y="328.78" width="1.8" height="1.8"/><rect x="364.7" y="329.31" width="1.8" height="1.8"/><rect x="365.12" y="329.2" width="1.8" height="1.8"/><rect x="365.54" y="328.67" width="1.8" height="1.8"/><rect x="365.96" y="328.19" width="1.8" height="1.8"/><rect x="366.38" y="328.56" width="1.8" height="1.8"/><rect x="366.8" y="328.69" width="1.8" height="1.8"/><rect x="367.22" y="328.66" width="1.8" height="1.8"/><rect x="367.64" y="328.31" width="1.8" height="1.8"/><rect x="368.06" y="328.92" width="1.8" height="1.8"/><rect x="368.48" y="328.8" width="1.8" height="1.8"/><rect x="368.9" y="328.9" width="1.8" height="1.8"/><rect x="369.32" y="328.27" width="1.8" height="1.8"/><rect x="369.74" y="328.32" width="1.8" height="1.8"/><rect x="370" y="343.75" width="1.8" height="1.8"/><rect x="370.42" y="344.17" width="1.8" height="1.8"/><rect x="370.84" y="345.24" width="1.8" height="1.8"/><rect x="371.26" y="345.33" width="1.8" height="1.8"/><rect x="371.68" y="345.92" width="1.8" height="1.8"/><rect x="372.1" y="346" width="1.8" height="1.8"/><rect x="372.52" y="347.08" width="1.8" height="1.8"/><rect x="372.94" y="346.75" width="1.8" height="1.8"/><rect x="373.36" y="347.3" width="1.8" height="1.8"/><rect x="373.78" y="347.29" width="1.8" height="1.8"/><rect x="374.2" y="346.31" width="1.8" height="1.8"/><rect x="374.62" y="347.99" width="1.8" height="1.8"/><rect x="375.04" y="346.2" width="1.8" height="1.8"/><rect x="375.46" y="347.79" width="1.8" height="1.8"/><rect x="375.88" y="347.95" width="1.8" height="1.8"/><rect x="376.3" y="347.33" width="1.8" height="1.8"/><rect x="376.72" y="347.25" width="1.8" height="1.8"/><rect x="377.14" y="347.35" width="1.8" height="1.8"/><rect x="377.56" y="347.9" width="1.8" height="1.8"/><rect x="377.98" y="348.17" width="1.8" height="1.8"/><rect x="378.4" y="346.85" width="1.8" height="1.8"/><rect x="378.82" y="346.77" width="1.8" height="1.8"/><rect x="379.24" y="346.37" width="1.8" height="1.8"/><rect x="379.66" y="347.54" width="1.8" height="1.8"/><rect x="380.08" y="347.27" width="1.8" height="1.8"/><rect x="380.5" y="346.76" width="1.8" height="1.8"/><rect x="380.92" y="347.26" width="1.8" height="1.8"/><rect x="381.34" y="347.12" width="1.8" height="1.8"/><rect x="381.76" y="347.66" width="1.8" height="1.8"/><rect x="382.18" y="346.33" width="1.8" height="1.8"/><rect x="382.6" y="347.6" width="1.8" height="1.8"/><rect x="383.02" y="346.83" width="1.8" height="1.8"/><rect x="383.44" y="347.56" width="1.8" height="1.8"/><rect x="383.86" y="347.49" width="1.8" height="1.8"/><rect x="384.28" y="347.25" width="1.8" height="1.8"/><rect x="384.7" y="347.97" width="1.8" height="1.8"/><rect x="385.12" y="347.42" width="1.8" height="1.8"/><rect x="385.54" y="346.61" width="1.8" height="1.8"/><rect x="385.96" y="346.24" width="1.8" height="1.8"/><rect x="386.38" y="347.16" width="1.8" height="1.8"/><rect x="386.8" y="347.61" width="1.8" height="1.8"/><rect x="387.22" y="346.45" width="1.8" height="1.8"/><rect x="387.64" y="346.82" width="1.8" height="1.8"/><rect x="388.06" y="347.51" width="1.8" height="1.8"/><rect x="388.48" y="347.05" width="1.8" height="1.8"/><rect x="388.9" y="346.9" width="1.8" height="1.8"/><rect x="389.32" y="348.02" width="1.8" height="1.8"/><rect x="389.74" y="347.19" width="1.8" height="1.8"/><rect x="390.16" y="347.68" width="1.8" height="1.8"/><rect x="390.58" y="346.72" width="1.8" height="1.8"/><rect x="391" y="347.12" width="1.8" height="1.8"/><rect x="391.42" y="347.7" width="1.8" height="1.8"/><rect x="391.84" y="347.72" width="1.8" height="1.8"/><rect x="392.26" y="348.35" width="1.8" height="1.8"/><rect x="392.68" y="347.57" width="1.8" height="1.8"/><rect x="393.1" y="346.24" width="1.8" height="1.8"/><rect x="393.52" y="346.76" width="1.8" height="1.8"/><rect x="393.94" y="346.75" width="1.8" height="1.8"/><rect x="394.36" y="347.47" width="1.8" height="1.8"/><rect x="394.78" y="347.32" width="1.8" height="1.8"/><rect x="395.2" y="348.14" width="1.8" height="1.8"/><rect x="395.62" y="347.5" width="1.8" height="1.8"/><rect x="396.04" y="346.67" width="1.8" height="1.8"/><rect x="396.46" y="347.98" width="1.8" height="1.8"/><rect x="396.88" y="347.28" width="1.8" height="1.8"/><rect x="397.3" y="347.08" width="1.8" height="1.8"/><rect x="397.72" y="347.78" width="1.8" height="1.8"/><rect x="398.14" y="347.91" width="1.8" height="1.8"/><rect x="398.56" y="347.97" width="1.8" height="1.8"/><rect x="398.98" y="347.92" width="1.8" height="1.8"/><rect x="399.4" y="347.22" width="1.8" height="1.8"/><rect x="399.82" y="346.31" width="1.8" height="1.8"/><rect x="400.24" y="346.66" width="1.8" height="1.8"/><rect x="400.66" y="347.42" width="1.8" height="1.8"/><rect x="401.08" y="347.37" width="1.8" height="1.8"/><rect x="401.5" y="348.06" width="1.8" height="1.8"/><rect x="401.92" y="347.51" width="1.8" height="1.8"/><rect x="402.34" y="347.25" width="1.8" height="1.8"/><rect x="402.76" y="347.39" width="1.8" height="1.8"/><rect x="403.18" y="346.98" width="1.8" height="1.8"/><rect x="403.6" y="346.52" width="1.8" height="1.8"/><rect x="404.02" y="347.27" width="1.8" height="1.8"/><rect x="404.44" y="347.09" width="1.8" height="1.8"/><rect x="404.86" y="346.17" width="1.8" height="1.8"/><rect x="405.28" y="348.07" width="1.8" height="1.8"/><rect x="405.7" y="348.02" width="1.8" height="1.8"/><rect x="406.12" y="347.37" width="1.8" height="1.8"/><rect x="406.54" y="348.05" width="1.8" height="1.8"/><rect x="406.96" y="346.86" width="1.8" height="1.8"/><rect x="407.38" y="347.78" width="1.8" height="1.8"/><rect x="407.5" y="340.8" width="1.8" height="1.8"/><rect x="407.92" y="340.27" width="1.8" height="1.8"/><rect x="408.34" y="338.64" width="1.8" height="1.8"/><rect x="408.76" y="337.82" width="1.8" height="1.8"/><rect x="409.18" y="336.89" width="1.8" height="1.8"/><rect x="409.6" y="336.33" width="1.8" height="1.8"/><rect x="410.02" y="336.48" width="1.8" height="1.8"/><rect x="410.44" y="334.18" width="1.8" height="1.8"/><rect x="410.86" y="334.27" width="1.8" height="1.8"/><rect x="411.28" y="334.73" width="1.8" height="1.8"/><rect x="411.7" y="333.9" width="1.8" height="1.8"/><rect x="412.12" y="333.15" width="1.8" height="1.8"/><rect x="412.54" y="332.21" width="1.8" height="1.8"/><rect x="412.96" y="332.15" width="1.8" height="1.8"/><rect x="413.38" y="333.12" width="1.8" height="1.8"/><rect x="413.8" y="331.84" width="1.8" height="1.8"/><rect x="414.22" y="331.19" width="1.8" height="1.8"/><rect x="414.64" y="331.01" width="1.8" height="1.8"/><rect x="415.06" y="331.47" width="1.8" height="1.8"/><rect x="415.48" y="331.84" width="1.8" height="1.8"/><rect x="415.9" y="330.44" width="1.8" height="1.8"/><rect x="416.32" y="330.71" width="1.8" height="1.8"/><rect x="416.74" y="329.7" width="1.8" height="1.8"/><rect x="417.16" y="329.92" width="1.8" height="1.8"/><rect x="417.58" y="331.51" width="1.8" height="1.8"/><rect x="418" y="329.36" width="1.8" height="1.8"/><rect x="418.42" y="329.81" width="1.8" height="1.8"/><rect x="418.84" y="330.37" width="1.8" height="1.8"/><rect x="419.26" y="329.5" width="1.8" height="1.8"/><rect x="419.68" y="328.39" width="1.8" height="1.8"/><rect x="420.1" y="330.51" width="1.8" height="1.8"/><rect x="420.52" y="329.01" width="1.8" height="1.8"/><rect x="420.94" y="329.99" width="1.8" height="1.8"/><rect x="421.36" y="328.41" width="1.8" height="1.8"/><rect x="421.78" y="329.48" width="1.8" height="1.8"/><rect x="422.2" y="328.39" width="1.8" height="1.8"/><rect x="422.62" y="330.09" width="1.8" height="1.8"/><rect x="423.04" y="328.5" width="1.8" height="1.8"/><rect x="423.46" y="329.12" width="1.8" height="1.8"/><rect x="423.88" y="328.96" width="1.8" height="1.8"/><rect x="424.3" y="329.48" width="1.8" height="1.8"/><rect x="424.72" y="328.55" width="1.8" height="1.8"/><rect x="425.14" y="328.82" width="1.8" height="1.8"/><rect x="425.56" y="329" width="1.8" height="1.8"/><rect x="425.98" y="329.58" width="1.8" height="1.8"/><rect x="426.4" y="329.19" width="1.8" height="1.8"/><rect x="426.82" y="328.18" width="1.8" height="1.8"/><rect x="427.24" y="329.61" width="1.8" height="1.8"/><rect x="427.66" y="329.52" width="1.8" height="1.8"/><rect x="428.08" y="328.92" width="1.8" height="1.8"/><rect x="428.5" y="328.81" width="1.8" height="1.8"/><rect x="428.92" y="328.94" width="1.8" height="1.8"/><rect x="429.34" y="329.9" width="1.8" height="1.8"/><rect x="429.76" y="329.5" width="1.8" height="1.8"/><rect x="430.18" y="327.73" width="1.8" height="1.8"/><rect x="430.6" y="328.72" width="1.8" height="1.8"/><rect x="431.02" y="328.91" width="1.8" height="1.8"/><rect x="431.44" y="329.03" width="1.8" height="1.8"/><rect x="431.86" y="329.04" width="1.8" height="1.8"/><rect x="432.28" y="328.3" width="1.8" height="1.8"/><rect x="432.7" y="328.35" width="1.8" height="1.8"/><rect x="433.12" y="329.09" width="1.8" height="1.8"/><rect x="433.54" y="328.95" width="1.8" height="1.8"/><rect x="433.96" y="328.65" width="1.8" height="1.8"/><rect x="434.38" y="328.42" width="1.8" height="1.8"/><rect x="434.8" y="328.51" width="1.8" height="1.8"/><rect x="435.22" y="329.16" width="1.8" height="1.8"/><rect x="435.64" y="330.06" width="1.8" height="1.8"/><rect x="436.06" y="328.72" width="1.8" height="1.8"/><rect x="436.48" y="328.85" width="1.8" height="1.8"/><rect x="436.9" y="329.77" width="1.8" height="1.8"/><rect x="437.32" y="328.09" width="1.8" height="1.8"/><rect x="437.74" y="329.04" width="1.8" height="1.8"/><rect x="438.16" y="327.89" width="1.8" height="1.8"/><rect x="438.58" y="328.71" width="1.8" height="1.8"/><rect x="439" y="329.52" width="1.8" height="1.8"/><rect x="439.42" y="328.39" width="1.8" height="1.8"/><rect x="439.84" y="329.48" width="1.8" height="1.8"/><rect x="440.26" y="328.43" width="1.8" height="1.8"/><rect x="440.4" y="343.64" width="1.8" height="1.8"/><rect x="440.82" y="344.31" width="1.8" height="1.8"/><rect x="441.24" y="345.6" width="1.8" height="1.8"/><rect x="441.66" y="345.25" width="1.8" height="1.8"/><rect x="442.08" y="345.84" width="1.8" height="1.8"/><rect x="442.5" y="347.02" width="1.8" height="1.8"/><rect x="442.92" y="346.34" width="1.8" height="1.8"/><rect x="443.34" y="346.81" width="1.8" height="1.8"/><rect x="443.76" y="346.49" width="1.8" height="1.8"/><rect x="444.18" y="347.23" width="1.8" height="1.8"/><rect x="444.6" y="346.55" width="1.8" height="1.8"/><rect x="445.02" y="347.28" width="1.8" height="1.8"/><rect x="445.44" y="346.9" width="1.8" height="1.8"/><rect x="445.86" y="347.1" width="1.8" height="1.8"/><rect x="446.28" y="347.37" width="1.8" height="1.8"/><rect x="446.7" y="346.86" width="1.8" height="1.8"/><rect x="447.12" y="347.28" width="1.8" height="1.8"/><rect x="447.54" y="348.31" width="1.8" height="1.8"/><rect x="447.96" y="347.86" width="1.8" height="1.8"/><rect x="448.38" y="346.87" width="1.8" height="1.8"/><rect x="448.8" y="347.43" width="1.8" height="1.8"/><rect x="449.22" y="347.74" width="1.8" height="1.8"/><rect x="449.64" y="347.49" width="1.8" height="1.8"/><rect x="450.06" y="347.43" width="1.8" height="1.8"/><rect x="450.48" y="347.19" width="1.8" height="1.8"/><rect x="450.9" y="347.28" width="1.8" height="1.8"/><rect x="451.32" y="347.15" width="1.8" height="1.8"/><rect x="451.74" y="347.6" width="1.8" height="1.8"/><rect x="452.16" y="346.29" width="1.8" height="1.8"/><rect x="452.58" y="347.05" width="1.8" height="1.8"/><rect x="453" y="347.4" width="1.8" height="1.8"/><rect x="453.42" y="347.49" width="1.8" height="1.8"/><rect x="453.84" y="347.4" width="1.8" height="1.8"/><rect x="454.26" y="347.64" width="1.8" height="1.8"/><rect x="454.68" y="347.06" width="1.8" height="1.8"/><rect x="455.1" y="346.42" width="1.8" height="1.8"/><rect x="455.52" y="347.63" width="1.8" height="1.8"/><rect x="455.94" y="347.13" width="1.8" height="1.8"/><rect x="456.36" y="346.81" width="1.8" height="1.8"/><rect x="456.78" y="348.13" width="1.8" height="1.8"/><rect x="457.2" y="347.41" width="1.8" height="1.8"/><rect x="457.62" y="347.02" width="1.8" height="1.8"/><rect x="458.04" y="346.88" width="1.8" height="1.8"/><rect x="458.46" y="347.79" width="1.8" height="1.8"/><rect x="458.88" y="347.23" width="1.8" height="1.8"/><rect x="459.3" y="347.84" width="1.8" height="1.8"/><rect x="459.72" y="347.59" width="1.8" height="1.8"/><rect x="460.14" y="346.97" width="1.8" height="1.8"/><rect x="460.56" y="347.12" width="1.8" height="1.8"/><rect x="460.98" y="347.86" width="1.8" height="1.8"/><rect x="461.4" y="346.69" width="1.8" height="1.8"/><rect x="461.82" y="347.65" width="1.8" height="1.8"/><rect x="462.24" y="347.6" width="1.8" height="1.8"/><rect x="462.66" y="347.53" width="1.8" height="1.8"/><rect x="463.08" y="347.74" width="1.8" height="1.8"/><rect x="463.5" y="347.38" width="1.8" height="1.8"/><rect x="463.92" y="346.53" width="1.8" height="1.8"/><rect x="464.34" y="347.84" width="1.8" height="1.8"/><rect x="464.76" y="347.72" width="1.8" height="1.8"/><rect x="465.18" y="347.25" width="1.8" height="1.8"/><rect x="465.6" y="347.74" width="1.8" height="1.8"/><rect x="466.02" y="347.81" width="1.8" height="1.8"/><rect x="466.44" y="346.93" width="1.8" height="1.8"/><rect x="466.86" y="346.25" width="1.8" height="1.8"/><rect x="467.28" y="347.76" width="1.8" height="1.8"/><rect x="467.7" y="348.03" width="1.8" height="1.8"/><rect x="468.12" y="347.1" width="1.8" height="1.8"/><rect x="468.54" y="346" width="1.8" height="1.8"/><rect x="468.96" y="347.86" width="1.8" height="1.8"/><rect x="469.38" y="347.69" width="1.8" height="1.8"/><rect x="469.8" y="346.05" width="1.8" height="1.8"/><rect x="470.22" y="347.16" width="1.8" height="1.8"/><rect x="470.64" y="347.63" width="1.8" height="1.8"/><rect x="471.06" y="347.26" width="1.8" height="1.8"/><rect x="471.48" y="347.3" width="1.8" height="1.8"/><rect x="471.9" y="347.14" width="1.8" height="1.8"/><rect x="472.32" y="346.69" width="1.8" height="1.8"/><rect x="472.74" y="346.62" width="1.8" height="1.8"/><rect x="473.16" y="348" width="1.8" height="1.8"/><rect x="473.58" y="347.13" width="1.8" height="1.8"/><rect x="474" y="347.92" width="1.8" height="1.8"/><rect x="474.42" y="346.77" width="1.8" height="1.8"/><rect x="474.84" y="347.23" width="1.8" height="1.8"/><rect x="475.26" y="347.98" width="1.8" height="1.8"/><rect x="475.68" y="346.6" width="1.8" height="1.8"/><rect x="476.1" y="347.86" width="1.8" height="1.8"/><rect x="476.52" y="347.51" width="1.8" height="1.8"/><rect x="476.94" y="347.79" width="1.8" height="1.8"/><rect x="477.36" y="347.51" width="1.8" height="1.8"/><rect x="477.78" y="346.72" width="1.8" height="1.8"/><rect x="478.2" y="347.1" width="1.8" height="1.8"/><rect x="478.7" y="340.77" width="1.8" height="1.8"/><rect x="479.12" y="339.37" width="1.8" height="1.8"/><rect x="479.54" y="339.37" width="1.8" height="1.8"/><rect x="479.96" y="337.83" width="1.8" height="1.8"/><rect x="480.38" y="337.12" width="1.8" height="1.8"/><rect x="480.8" y="336.68" width="1.8" height="1.8"/><rect x="481.22" y="336.61" width="1.8" height="1.8"/><rect x="481.64" y="336.3" width="1.8" height="1.8"/><rect x="482.06" y="335.57" width="1.8" height="1.8"/><rect x="482.48" y="334.56" width="1.8" height="1.8"/><rect x="482.9" y="333.72" width="1.8" height="1.8"/><rect x="483.32" y="333.38" width="1.8" height="1.8"/><rect x="483.74" y="334.96" width="1.8" height="1.8"/><rect x="484.16" y="333.85" width="1.8" height="1.8"/><rect x="484.58" y="332.71" width="1.8" height="1.8"/><rect x="485" y="331.75" width="1.8" height="1.8"/><rect x="485.42" y="332.16" width="1.8" height="1.8"/><rect x="485.84" y="332.03" width="1.8" height="1.8"/><rect x="486.26" y="331.71" width="1.8" height="1.8"/><rect x="486.68" y="330.96" width="1.8" height="1.8"/><rect x="487.1" y="331.46" width="1.8" height="1.8"/><rect x="487.52" y="331.54" width="1.8" height="1.8"/><rect x="487.94" y="329.87" width="1.8" height="1.8"/><rect x="488.36" y="329.84" width="1.8" height="1.8"/><rect x="488.78" y="329.36" width="1.8" height="1.8"/><rect x="489.2" y="329.54" width="1.8" height="1.8"/><rect x="489.62" y="329.18" width="1.8" height="1.8"/><rect x="490.04" y="329.82" width="1.8" height="1.8"/><rect x="490.46" y="329.84" width="1.8" height="1.8"/><rect x="490.88" y="328.99" width="1.8" height="1.8"/><rect x="491.3" y="329.72" width="1.8" height="1.8"/><rect x="491.72" y="329.34" width="1.8" height="1.8"/><rect x="492.14" y="328.35" width="1.8" height="1.8"/><rect x="492.56" y="329.11" width="1.8" height="1.8"/><rect x="492.98" y="329.61" width="1.8" height="1.8"/><rect x="493.4" y="328.86" width="1.8" height="1.8"/><rect x="493.82" y="329.79" width="1.8" height="1.8"/><rect x="494.24" y="329.61" width="1.8" height="1.8"/><rect x="494.66" y="328.07" width="1.8" height="1.8"/><rect x="495.08" y="329.17" width="1.8" height="1.8"/><rect x="495.5" y="329.6" width="1.8" height="1.8"/><rect x="495.92" y="329.72" width="1.8" height="1.8"/><rect x="496.34" y="328.94" width="1.8" height="1.8"/><rect x="496.76" y="328.78" width="1.8" height="1.8"/><rect x="497.18" y="328.05" width="1.8" height="1.8"/><rect x="497.6" y="328.88" width="1.8" height="1.8"/><rect x="498.02" y="329.55" width="1.8" height="1.8"/><rect x="498.44" y="328.95" width="1.8" height="1.8"/><rect x="498.86" y="328.64" width="1.8" height="1.8"/><rect x="499.28" y="328.41" width="1.8" height="1.8"/><rect x="499.7" y="328.37" width="1.8" height="1.8"/><rect x="500.12" y="328.79" width="1.8" height="1.8"/><rect x="500.54" y="328.31" width="1.8" height="1.8"/><rect x="500.96" y="329.47" width="1.8" height="1.8"/><rect x="501.38" y="330.01" width="1.8" height="1.8"/><rect x="501.8" y="328.17" width="1.8" height="1.8"/><rect x="502.22" y="329.15" width="1.8" height="1.8"/><rect x="502.64" y="329.25" width="1.8" height="1.8"/><rect x="503.06" y="328.24" width="1.8" height="1.8"/><rect x="503.48" y="328.63" width="1.8" height="1.8"/><rect x="503.9" y="329.09" width="1.8" height="1.8"/><rect x="504.32" y="328.76" width="1.8" height="1.8"/><rect x="504.74" y="328.56" width="1.8" height="1.8"/><rect x="505.16" y="329.22" width="1.8" height="1.8"/><rect x="505.58" y="328.61" width="1.8" height="1.8"/><rect x="506" y="328.73" width="1.8" height="1.8"/><rect x="506.42" y="328.18" width="1.8" height="1.8"/><rect x="506.84" y="327.1" width="1.8" height="1.8"/><rect x="507.26" y="328.34" width="1.8" height="1.8"/><rect x="507.68" y="329.15" width="1.8" height="1.8"/><rect x="508.1" y="328.68" width="1.8" height="1.8"/><rect x="508.52" y="329.08" width="1.8" height="1.8"/><rect x="508.94" y="328.13" width="1.8" height="1.8"/><rect x="509.36" y="330.25" width="1.8" height="1.8"/><rect x="509.78" y="328.59" width="1.8" height="1.8"/><rect x="510.2" y="329.28" width="1.8" height="1.8"/><rect x="510.62" y="329.58" width="1.8" height="1.8"/><rect x="511.04" y="328.73" width="1.8" height="1.8"/><rect x="362.1" y="332.7" width="1.8" height="1.8"/><rect x="362.3" y="336.5" width="1.8" height="1.8"/><rect x="361.7" y="330.7" width="1.8" height="1.8"/><rect x="362.7" y="334.6" width="1.8" height="1.8"/><rect x="363.1" y="331.1" width="1.8" height="1.8"/><rect x="337.6" y="341.6" width="1.8" height="1.8"/><rect x="416.6" y="339.4" width="1.8" height="1.8"/><rect x="416.9" y="337.7" width="1.8" height="1.8"/><rect x="370.5" y="339.6" width="1.8" height="1.8"/><rect x="441.1" y="339.7" width="1.8" height="1.8"/><rect x="511.1" y="344" width="1.8" height="1.8"/><rect x="511.3" y="339.1" width="1.8" height="1.8"/></g>
<g fill="#1ecf9e"><rect x="339.97" y="305.85" width="1.7" height="1.7"/><rect x="340.39" y="304.34" width="1.7" height="1.7"/><rect x="340.81" y="304.01" width="1.7" height="1.7"/><rect x="341.23" y="304.56" width="1.7" height="1.7"/><rect x="341.65" y="303.18" width="1.7" height="1.7"/><rect x="342.07" y="303.83" width="1.7" height="1.7"/><rect x="342.49" y="304.71" width="1.7" height="1.7"/><rect x="342.91" y="303.49" width="1.7" height="1.7"/><rect x="343.33" y="303.92" width="1.7" height="1.7"/><rect x="343.75" y="304.8" width="1.7" height="1.7"/><rect x="344.17" y="304.18" width="1.7" height="1.7"/><rect x="344.59" y="304.69" width="1.7" height="1.7"/><rect x="345.01" y="304.81" width="1.7" height="1.7"/><rect x="345.43" y="305.38" width="1.7" height="1.7"/><rect x="345.85" y="304.01" width="1.7" height="1.7"/><rect x="346.27" y="304.79" width="1.7" height="1.7"/><rect x="346.69" y="305.1" width="1.7" height="1.7"/><rect x="347.11" y="304.88" width="1.7" height="1.7"/><rect x="347.53" y="306.12" width="1.7" height="1.7"/><rect x="347.95" y="304.03" width="1.7" height="1.7"/><rect x="348.37" y="304.27" width="1.7" height="1.7"/><rect x="348.79" y="305.69" width="1.7" height="1.7"/><rect x="349.21" y="303.26" width="1.7" height="1.7"/><rect x="349.63" y="304.53" width="1.7" height="1.7"/><rect x="350.05" y="304.1" width="1.7" height="1.7"/><rect x="350.47" y="305.02" width="1.7" height="1.7"/><rect x="350.89" y="304.5" width="1.7" height="1.7"/><rect x="351.31" y="303.31" width="1.7" height="1.7"/><rect x="351.73" y="304.35" width="1.7" height="1.7"/><rect x="352.15" y="304.44" width="1.7" height="1.7"/><rect x="352.57" y="303.92" width="1.7" height="1.7"/><rect x="352.99" y="302.82" width="1.7" height="1.7"/><rect x="353.41" y="304.74" width="1.7" height="1.7"/><rect x="353.83" y="303.62" width="1.7" height="1.7"/><rect x="354.25" y="305.46" width="1.7" height="1.7"/><rect x="354.67" y="303.52" width="1.7" height="1.7"/><rect x="355.09" y="303.05" width="1.7" height="1.7"/><rect x="355.51" y="303.44" width="1.7" height="1.7"/><rect x="355.93" y="304.52" width="1.7" height="1.7"/><rect x="356.35" y="304.12" width="1.7" height="1.7"/><rect x="356.77" y="304.94" width="1.7" height="1.7"/><rect x="357.19" y="303.39" width="1.7" height="1.7"/><rect x="357.61" y="305.08" width="1.7" height="1.7"/><rect x="358.03" y="304.62" width="1.7" height="1.7"/><rect x="358.45" y="304.92" width="1.7" height="1.7"/><rect x="358.87" y="304.16" width="1.7" height="1.7"/><rect x="359.29" y="303.35" width="1.7" height="1.7"/><rect x="359.71" y="304.87" width="1.7" height="1.7"/><rect x="360.13" y="304.32" width="1.7" height="1.7"/><rect x="360.55" y="304.24" width="1.7" height="1.7"/><rect x="360.97" y="302.72" width="1.7" height="1.7"/><rect x="361.39" y="304.31" width="1.7" height="1.7"/><rect x="361.81" y="303.96" width="1.7" height="1.7"/><rect x="362.23" y="303.53" width="1.7" height="1.7"/><rect x="362.65" y="303.34" width="1.7" height="1.7"/><rect x="363.07" y="304.25" width="1.7" height="1.7"/><rect x="363.49" y="304.2" width="1.7" height="1.7"/><rect x="363.91" y="303.71" width="1.7" height="1.7"/><rect x="364.33" y="303.99" width="1.7" height="1.7"/><rect x="364.75" y="304.29" width="1.7" height="1.7"/><rect x="365.17" y="304.55" width="1.7" height="1.7"/><rect x="365.59" y="304.42" width="1.7" height="1.7"/><rect x="366.01" y="304.71" width="1.7" height="1.7"/><rect x="366.43" y="303.73" width="1.7" height="1.7"/><rect x="366.85" y="304.85" width="1.7" height="1.7"/><rect x="367.27" y="302.69" width="1.7" height="1.7"/><rect x="367.69" y="304.27" width="1.7" height="1.7"/><rect x="368.11" y="303.69" width="1.7" height="1.7"/><rect x="368.53" y="304.71" width="1.7" height="1.7"/><rect x="368.95" y="303.09" width="1.7" height="1.7"/><rect x="369.37" y="303.76" width="1.7" height="1.7"/><rect x="369.79" y="304.16" width="1.7" height="1.7"/><rect x="410.07" y="304.13" width="1.7" height="1.7"/><rect x="410.49" y="303.95" width="1.7" height="1.7"/><rect x="410.91" y="303.68" width="1.7" height="1.7"/><rect x="411.33" y="304.83" width="1.7" height="1.7"/><rect x="411.75" y="304.04" width="1.7" height="1.7"/><rect x="412.17" y="302.23" width="1.7" height="1.7"/><rect x="412.59" y="304.21" width="1.7" height="1.7"/><rect x="413.01" y="303.48" width="1.7" height="1.7"/><rect x="413.43" y="304.27" width="1.7" height="1.7"/><rect x="413.85" y="303.37" width="1.7" height="1.7"/><rect x="414.27" y="304.76" width="1.7" height="1.7"/><rect x="414.69" y="303.74" width="1.7" height="1.7"/><rect x="415.11" y="303.69" width="1.7" height="1.7"/><rect x="415.53" y="302.65" width="1.7" height="1.7"/><rect x="415.95" y="303.91" width="1.7" height="1.7"/><rect x="416.37" y="304.39" width="1.7" height="1.7"/><rect x="416.79" y="304.36" width="1.7" height="1.7"/><rect x="417.21" y="303.55" width="1.7" height="1.7"/><rect x="417.63" y="304.12" width="1.7" height="1.7"/><rect x="418.05" y="304.3" width="1.7" height="1.7"/><rect x="418.47" y="304.52" width="1.7" height="1.7"/><rect x="418.89" y="303.89" width="1.7" height="1.7"/><rect x="419.31" y="303.75" width="1.7" height="1.7"/><rect x="419.73" y="303.85" width="1.7" height="1.7"/><rect x="420.15" y="303.41" width="1.7" height="1.7"/><rect x="420.57" y="303.89" width="1.7" height="1.7"/><rect x="420.99" y="303.76" width="1.7" height="1.7"/><rect x="421.41" y="303.46" width="1.7" height="1.7"/><rect x="421.83" y="304.17" width="1.7" height="1.7"/><rect x="422.25" y="303.85" width="1.7" height="1.7"/><rect x="422.67" y="304.91" width="1.7" height="1.7"/><rect x="423.09" y="302.96" width="1.7" height="1.7"/><rect x="423.51" y="303.37" width="1.7" height="1.7"/><rect x="423.93" y="303.91" width="1.7" height="1.7"/><rect x="424.35" y="303.55" width="1.7" height="1.7"/><rect x="424.77" y="303.1" width="1.7" height="1.7"/><rect x="425.19" y="303.35" width="1.7" height="1.7"/><rect x="425.61" y="306.05" width="1.7" height="1.7"/><rect x="426.03" y="303.52" width="1.7" height="1.7"/><rect x="426.45" y="302.92" width="1.7" height="1.7"/><rect x="426.87" y="304.27" width="1.7" height="1.7"/><rect x="427.29" y="303.27" width="1.7" height="1.7"/><rect x="427.71" y="303.93" width="1.7" height="1.7"/><rect x="428.13" y="305.15" width="1.7" height="1.7"/><rect x="428.55" y="302.85" width="1.7" height="1.7"/><rect x="428.97" y="303.66" width="1.7" height="1.7"/><rect x="429.39" y="302.24" width="1.7" height="1.7"/><rect x="429.81" y="303.89" width="1.7" height="1.7"/><rect x="430.23" y="304.27" width="1.7" height="1.7"/><rect x="430.65" y="304.21" width="1.7" height="1.7"/><rect x="431.07" y="303.87" width="1.7" height="1.7"/><rect x="431.49" y="304.6" width="1.7" height="1.7"/><rect x="431.91" y="304.28" width="1.7" height="1.7"/><rect x="432.33" y="305.2" width="1.7" height="1.7"/><rect x="432.75" y="304.62" width="1.7" height="1.7"/><rect x="433.17" y="303.47" width="1.7" height="1.7"/><rect x="433.59" y="304.27" width="1.7" height="1.7"/><rect x="434.01" y="302.83" width="1.7" height="1.7"/><rect x="434.43" y="304.75" width="1.7" height="1.7"/><rect x="434.85" y="303.15" width="1.7" height="1.7"/><rect x="435.27" y="304.73" width="1.7" height="1.7"/><rect x="435.69" y="304.24" width="1.7" height="1.7"/><rect x="436.11" y="304.27" width="1.7" height="1.7"/><rect x="436.53" y="302.85" width="1.7" height="1.7"/><rect x="436.95" y="304.85" width="1.7" height="1.7"/><rect x="437.37" y="304.93" width="1.7" height="1.7"/><rect x="437.79" y="303.5" width="1.7" height="1.7"/><rect x="438.21" y="303.99" width="1.7" height="1.7"/><rect x="438.63" y="304.47" width="1.7" height="1.7"/><rect x="439.05" y="304.73" width="1.7" height="1.7"/><rect x="439.47" y="303.47" width="1.7" height="1.7"/><rect x="439.89" y="303.77" width="1.7" height="1.7"/><rect x="440.31" y="303.51" width="1.7" height="1.7"/><rect x="481.27" y="303.9" width="1.7" height="1.7"/><rect x="481.69" y="303.06" width="1.7" height="1.7"/><rect x="482.11" y="304.4" width="1.7" height="1.7"/><rect x="482.53" y="304.08" width="1.7" height="1.7"/><rect x="482.95" y="302.99" width="1.7" height="1.7"/><rect x="483.37" y="303.3" width="1.7" height="1.7"/><rect x="483.79" y="303.41" width="1.7" height="1.7"/><rect x="484.21" y="303.89" width="1.7" height="1.7"/><rect x="484.63" y="304.27" width="1.7" height="1.7"/><rect x="485.05" y="304.39" width="1.7" height="1.7"/><rect x="485.47" y="302.69" width="1.7" height="1.7"/><rect x="485.89" y="304.14" width="1.7" height="1.7"/><rect x="486.31" y="304.86" width="1.7" height="1.7"/><rect x="486.73" y="304.11" width="1.7" height="1.7"/><rect x="487.15" y="303.12" width="1.7" height="1.7"/><rect x="487.57" y="302.73" width="1.7" height="1.7"/><rect x="487.99" y="304.12" width="1.7" height="1.7"/><rect x="488.41" y="303.67" width="1.7" height="1.7"/><rect x="488.83" y="303.8" width="1.7" height="1.7"/><rect x="489.25" y="303.99" width="1.7" height="1.7"/><rect x="489.67" y="304.06" width="1.7" height="1.7"/><rect x="490.09" y="303.79" width="1.7" height="1.7"/><rect x="490.51" y="303.84" width="1.7" height="1.7"/><rect x="490.93" y="301.95" width="1.7" height="1.7"/><rect x="491.35" y="303.09" width="1.7" height="1.7"/><rect x="491.77" y="304.05" width="1.7" height="1.7"/><rect x="492.19" y="303.22" width="1.7" height="1.7"/><rect x="492.61" y="303.01" width="1.7" height="1.7"/><rect x="493.03" y="303.65" width="1.7" height="1.7"/><rect x="493.45" y="303.06" width="1.7" height="1.7"/><rect x="493.87" y="303.29" width="1.7" height="1.7"/><rect x="494.29" y="304.06" width="1.7" height="1.7"/><rect x="494.71" y="302.99" width="1.7" height="1.7"/><rect x="495.13" y="303.99" width="1.7" height="1.7"/><rect x="495.55" y="304.31" width="1.7" height="1.7"/><rect x="495.97" y="303.49" width="1.7" height="1.7"/><rect x="496.39" y="304.29" width="1.7" height="1.7"/><rect x="496.81" y="304.49" width="1.7" height="1.7"/><rect x="497.23" y="304.21" width="1.7" height="1.7"/><rect x="497.65" y="302.37" width="1.7" height="1.7"/><rect x="498.07" y="303.97" width="1.7" height="1.7"/><rect x="498.49" y="303" width="1.7" height="1.7"/><rect x="498.91" y="304.81" width="1.7" height="1.7"/><rect x="499.33" y="301.32" width="1.7" height="1.7"/><rect x="499.75" y="302.91" width="1.7" height="1.7"/><rect x="500.17" y="303.47" width="1.7" height="1.7"/><rect x="500.59" y="303.16" width="1.7" height="1.7"/><rect x="501.01" y="302.74" width="1.7" height="1.7"/><rect x="501.43" y="303.37" width="1.7" height="1.7"/><rect x="501.85" y="304.3" width="1.7" height="1.7"/><rect x="502.27" y="303.02" width="1.7" height="1.7"/><rect x="502.69" y="302.46" width="1.7" height="1.7"/><rect x="503.11" y="304.54" width="1.7" height="1.7"/><rect x="503.53" y="302.84" width="1.7" height="1.7"/><rect x="503.95" y="304.39" width="1.7" height="1.7"/><rect x="504.37" y="302.49" width="1.7" height="1.7"/><rect x="504.79" y="304.04" width="1.7" height="1.7"/><rect x="505.21" y="305.05" width="1.7" height="1.7"/><rect x="505.63" y="303.41" width="1.7" height="1.7"/><rect x="506.05" y="304.59" width="1.7" height="1.7"/><rect x="506.47" y="304.66" width="1.7" height="1.7"/><rect x="506.89" y="304.31" width="1.7" height="1.7"/><rect x="507.31" y="304.07" width="1.7" height="1.7"/><rect x="507.73" y="302.92" width="1.7" height="1.7"/><rect x="508.15" y="303.92" width="1.7" height="1.7"/><rect x="508.57" y="303.1" width="1.7" height="1.7"/><rect x="508.99" y="302.4" width="1.7" height="1.7"/><rect x="509.41" y="303.62" width="1.7" height="1.7"/><rect x="509.83" y="302.7" width="1.7" height="1.7"/><rect x="510.25" y="303.38" width="1.7" height="1.7"/><rect x="510.67" y="304.35" width="1.7" height="1.7"/><rect x="511.09" y="304.26" width="1.7" height="1.7"/><rect x="338.55" y="229.85" width="1.7" height="1.7"/><rect x="338.25" y="240.15" width="1.7" height="1.7"/><rect x="339.05" y="252.85" width="1.7" height="1.7"/><rect x="339.05" y="278.55" width="1.7" height="1.7"/><rect x="339.35" y="287.55" width="1.7" height="1.7"/><rect x="339.65" y="296.75" width="1.7" height="1.7"/><rect x="340.15" y="299.75" width="1.7" height="1.7"/><rect x="361.95" y="312.15" width="1.7" height="1.7"/><rect x="362.25" y="315.15" width="1.7" height="1.7"/><rect x="362.45" y="318.95" width="1.7" height="1.7"/><rect x="362.75" y="322.75" width="1.7" height="1.7"/><rect x="361.65" y="308.65" width="1.7" height="1.7"/><rect x="361.75" y="310.35" width="1.7" height="1.7"/><rect x="362.05" y="313.75" width="1.7" height="1.7"/><rect x="362.35" y="317.05" width="1.7" height="1.7"/><rect x="362.65" y="320.85" width="1.7" height="1.7"/><rect x="361.35" y="307.15" width="1.7" height="1.7"/><rect x="363.35" y="317.65" width="1.7" height="1.7"/><rect x="363.75" y="313.15" width="1.7" height="1.7"/><rect x="364.15" y="309.65" width="1.7" height="1.7"/><rect x="364.75" y="307.35" width="1.7" height="1.7"/><rect x="370.95" y="290.65" width="1.7" height="1.7"/><rect x="370.95" y="303.65" width="1.7" height="1.7"/><rect x="371.15" y="325.15" width="1.7" height="1.7"/><rect x="371.55" y="335.95" width="1.7" height="1.7"/><rect x="408.55" y="306.85" width="1.7" height="1.7"/><rect x="408.45" y="318.25" width="1.7" height="1.7"/><rect x="409.15" y="299.15" width="1.7" height="1.7"/><rect x="415.95" y="307.45" width="1.7" height="1.7"/><rect x="416.35" y="312.05" width="1.7" height="1.7"/><rect x="416.75" y="316.65" width="1.7" height="1.7"/><rect x="417.15" y="322.75" width="1.7" height="1.7"/><rect x="416.15" y="309.75" width="1.7" height="1.7"/><rect x="416.55" y="314.35" width="1.7" height="1.7"/><rect x="416.95" y="319.65" width="1.7" height="1.7"/><rect x="417.75" y="317.15" width="1.7" height="1.7"/><rect x="418.15" y="312.15" width="1.7" height="1.7"/><rect x="418.65" y="308.15" width="1.7" height="1.7"/><rect x="441.25" y="291.35" width="1.7" height="1.7"/><rect x="441.25" y="299.75" width="1.7" height="1.7"/><rect x="441.45" y="322.75" width="1.7" height="1.7"/><rect x="479.55" y="238.35" width="1.7" height="1.7"/><rect x="479.55" y="245.65" width="1.7" height="1.7"/><rect x="479.55" y="257.45" width="1.7" height="1.7"/><rect x="480.05" y="288.75" width="1.7" height="1.7"/><rect x="480.35" y="298.55" width="1.7" height="1.7"/><rect x="511.15" y="288.95" width="1.7" height="1.7"/><rect x="511.15" y="299.55" width="1.7" height="1.7"/></g>
<g fill="#1ecf9e"><rect x="312.2" y="351.54" width="1.2" height="1.2"/><rect x="313.46" y="351.83" width="1.2" height="1.2"/><rect x="315.14" y="351.58" width="1.2" height="1.2"/><rect x="315.56" y="351.77" width="1.2" height="1.2"/><rect x="315.98" y="351.34" width="1.2" height="1.2"/><rect x="316.82" y="351.21" width="1.2" height="1.2"/><rect x="317.66" y="351.56" width="1.2" height="1.2"/><rect x="318.5" y="352.2" width="1.2" height="1.2"/><rect x="320.18" y="351.64" width="1.2" height="1.2"/><rect x="321.44" y="351.85" width="1.2" height="1.2"/><rect x="322.7" y="351.7" width="1.2" height="1.2"/><rect x="323.12" y="351.74" width="1.2" height="1.2"/><rect x="323.54" y="352.14" width="1.2" height="1.2"/><rect x="323.96" y="351.65" width="1.2" height="1.2"/><rect x="324.38" y="351.45" width="1.2" height="1.2"/><rect x="325.64" y="351.83" width="1.2" height="1.2"/><rect x="327.32" y="351.73" width="1.2" height="1.2"/><rect x="328.58" y="351.22" width="1.2" height="1.2"/><rect x="329.42" y="351.47" width="1.2" height="1.2"/><rect x="329.84" y="351.59" width="1.2" height="1.2"/><rect x="331.1" y="351.85" width="1.2" height="1.2"/><rect x="331.52" y="351.33" width="1.2" height="1.2"/><rect x="332.36" y="351.98" width="1.2" height="1.2"/><rect x="332.78" y="352.18" width="1.2" height="1.2"/><rect x="333.2" y="351.43" width="1.2" height="1.2"/><rect x="334.04" y="351.25" width="1.2" height="1.2"/><rect x="334.88" y="351.92" width="1.2" height="1.2"/><rect x="335.72" y="351.7" width="1.2" height="1.2"/><rect x="336.14" y="351.93" width="1.2" height="1.2"/><rect x="336.56" y="351.71" width="1.2" height="1.2"/><rect x="337.4" y="351.4" width="1.2" height="1.2"/><rect x="371.14" y="351.29" width="1.2" height="1.2"/><rect x="371.98" y="351.74" width="1.2" height="1.2"/><rect x="372.4" y="351.59" width="1.2" height="1.2"/><rect x="372.82" y="352.08" width="1.2" height="1.2"/><rect x="373.24" y="351.61" width="1.2" height="1.2"/><rect x="373.66" y="351.22" width="1.2" height="1.2"/><rect x="374.92" y="351.91" width="1.2" height="1.2"/><rect x="376.18" y="352.34" width="1.2" height="1.2"/><rect x="377.02" y="351.74" width="1.2" height="1.2"/><rect x="377.44" y="352.12" width="1.2" height="1.2"/><rect x="378.28" y="351.92" width="1.2" height="1.2"/><rect x="379.96" y="352.04" width="1.2" height="1.2"/><rect x="381.22" y="351.82" width="1.2" height="1.2"/><rect x="381.64" y="351.6" width="1.2" height="1.2"/><rect x="382.06" y="351.87" width="1.2" height="1.2"/><rect x="382.48" y="351.45" width="1.2" height="1.2"/><rect x="383.74" y="351.35" width="1.2" height="1.2"/><rect x="385.84" y="352.34" width="1.2" height="1.2"/><rect x="386.26" y="351.66" width="1.2" height="1.2"/><rect x="386.68" y="351.19" width="1.2" height="1.2"/><rect x="387.1" y="351.38" width="1.2" height="1.2"/><rect x="387.52" y="351.52" width="1.2" height="1.2"/><rect x="388.78" y="352.14" width="1.2" height="1.2"/><rect x="389.2" y="351.59" width="1.2" height="1.2"/><rect x="390.04" y="351.5" width="1.2" height="1.2"/><rect x="390.88" y="351.21" width="1.2" height="1.2"/><rect x="391.3" y="350.98" width="1.2" height="1.2"/><rect x="391.72" y="351.68" width="1.2" height="1.2"/><rect x="394.66" y="352.03" width="1.2" height="1.2"/><rect x="395.08" y="351.46" width="1.2" height="1.2"/><rect x="397.18" y="351.85" width="1.2" height="1.2"/><rect x="398.44" y="351.73" width="1.2" height="1.2"/><rect x="399.7" y="351.62" width="1.2" height="1.2"/><rect x="400.54" y="351.48" width="1.2" height="1.2"/><rect x="401.38" y="351.77" width="1.2" height="1.2"/><rect x="401.8" y="351.61" width="1.2" height="1.2"/><rect x="402.64" y="352.08" width="1.2" height="1.2"/><rect x="403.06" y="351.58" width="1.2" height="1.2"/><rect x="403.48" y="351.67" width="1.2" height="1.2"/><rect x="405.16" y="351.77" width="1.2" height="1.2"/><rect x="405.58" y="351.49" width="1.2" height="1.2"/><rect x="406.42" y="351.42" width="1.2" height="1.2"/><rect x="406.84" y="351.82" width="1.2" height="1.2"/><rect x="407.26" y="351.34" width="1.2" height="1.2"/><rect x="407.68" y="351.53" width="1.2" height="1.2"/><rect x="440.7" y="351.42" width="1.2" height="1.2"/><rect x="441.12" y="351.88" width="1.2" height="1.2"/><rect x="441.54" y="351.56" width="1.2" height="1.2"/><rect x="441.96" y="351.79" width="1.2" height="1.2"/><rect x="442.8" y="351.13" width="1.2" height="1.2"/><rect x="444.06" y="351.36" width="1.2" height="1.2"/><rect x="444.9" y="351.62" width="1.2" height="1.2"/><rect x="446.16" y="351.45" width="1.2" height="1.2"/><rect x="446.58" y="351.74" width="1.2" height="1.2"/><rect x="447" y="351.34" width="1.2" height="1.2"/><rect x="447.84" y="352.15" width="1.2" height="1.2"/><rect x="448.26" y="351.33" width="1.2" height="1.2"/><rect x="448.68" y="351.63" width="1.2" height="1.2"/><rect x="449.94" y="351.54" width="1.2" height="1.2"/><rect x="450.78" y="351.65" width="1.2" height="1.2"/><rect x="451.62" y="351.74" width="1.2" height="1.2"/><rect x="452.04" y="351.28" width="1.2" height="1.2"/><rect x="452.46" y="351.86" width="1.2" height="1.2"/><rect x="452.88" y="351.53" width="1.2" height="1.2"/><rect x="453.3" y="351.13" width="1.2" height="1.2"/><rect x="454.14" y="351.57" width="1.2" height="1.2"/><rect x="455.4" y="352.05" width="1.2" height="1.2"/><rect x="455.82" y="351.58" width="1.2" height="1.2"/><rect x="457.08" y="352.26" width="1.2" height="1.2"/><rect x="457.5" y="351.76" width="1.2" height="1.2"/><rect x="457.92" y="351.74" width="1.2" height="1.2"/><rect x="458.34" y="351.32" width="1.2" height="1.2"/><rect x="458.76" y="351.28" width="1.2" height="1.2"/><rect x="459.18" y="351.94" width="1.2" height="1.2"/><rect x="460.44" y="351.6" width="1.2" height="1.2"/><rect x="461.28" y="351.5" width="1.2" height="1.2"/><rect x="461.7" y="351.53" width="1.2" height="1.2"/><rect x="462.12" y="351.56" width="1.2" height="1.2"/><rect x="462.96" y="351.98" width="1.2" height="1.2"/><rect x="463.38" y="352" width="1.2" height="1.2"/><rect x="464.22" y="351.53" width="1.2" height="1.2"/><rect x="464.64" y="351.25" width="1.2" height="1.2"/><rect x="465.06" y="351.84" width="1.2" height="1.2"/><rect x="465.48" y="351.75" width="1.2" height="1.2"/><rect x="466.32" y="351.15" width="1.2" height="1.2"/><rect x="466.74" y="351.92" width="1.2" height="1.2"/><rect x="467.16" y="351.1" width="1.2" height="1.2"/><rect x="467.58" y="351.03" width="1.2" height="1.2"/><rect x="468.42" y="351.79" width="1.2" height="1.2"/><rect x="469.68" y="351.07" width="1.2" height="1.2"/><rect x="470.52" y="351.23" width="1.2" height="1.2"/><rect x="470.94" y="351.49" width="1.2" height="1.2"/><rect x="471.36" y="351.54" width="1.2" height="1.2"/><rect x="471.78" y="352.11" width="1.2" height="1.2"/><rect x="473.46" y="351.69" width="1.2" height="1.2"/><rect x="473.88" y="351.38" width="1.2" height="1.2"/><rect x="474.3" y="351.41" width="1.2" height="1.2"/><rect x="475.14" y="351.45" width="1.2" height="1.2"/><rect x="475.56" y="350.98" width="1.2" height="1.2"/><rect x="475.98" y="351.56" width="1.2" height="1.2"/><rect x="476.4" y="351.69" width="1.2" height="1.2"/><rect x="476.82" y="351.52" width="1.2" height="1.2"/><rect x="477.24" y="351.61" width="1.2" height="1.2"/><rect x="477.66" y="351.82" width="1.2" height="1.2"/></g>
<polyline points="312.2,354 338.2,354 338.2,281.5 370.8,281.5 370.8,354 408.4,354 408.4,281.5 441.3,281.5 441.3,354 479.6,354 479.6,281.5 512.4,281.5 512.4,354" fill="none" stroke="#8528c2" stroke-width="1.55" stroke-linejoin="round" stroke-linecap="butt" />
</svg></body></html>
